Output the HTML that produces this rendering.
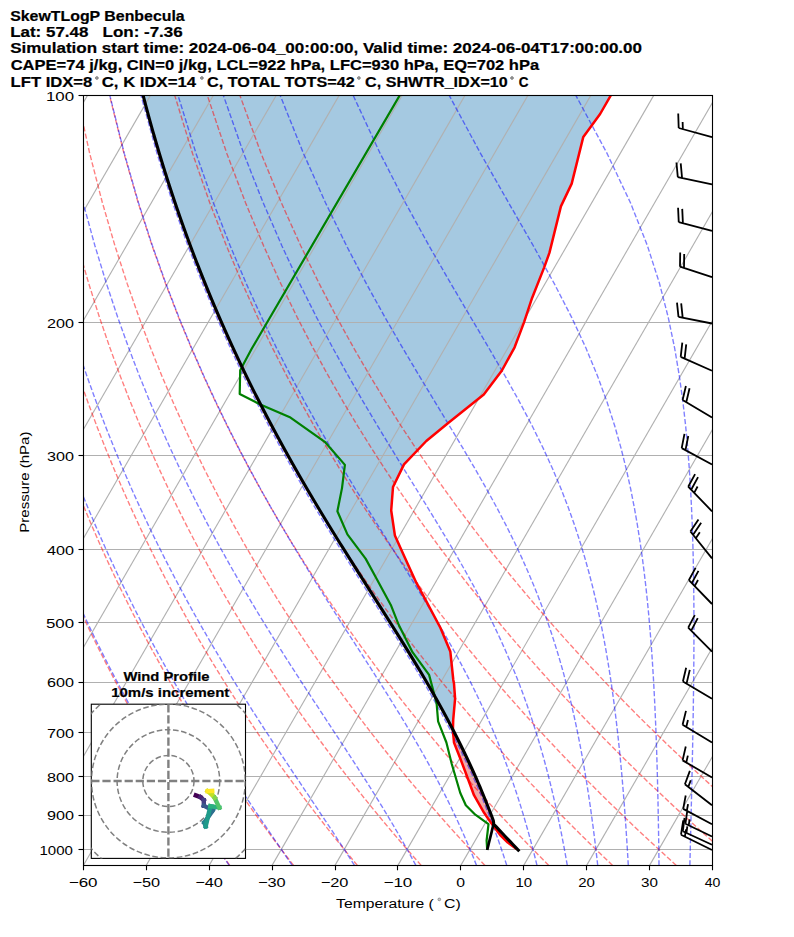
<!DOCTYPE html>
<html><head><meta charset="utf-8"><style>
html,body{margin:0;padding:0;background:#fff;}
svg{display:block;}
.tt{font-family:"Liberation Sans",sans-serif;font-weight:bold;font-size:14.3px;fill:#000;stroke:#000;stroke-width:0.2px;}
.tb{font-family:"Liberation Sans",sans-serif;font-weight:bold;font-size:13px;fill:#000;stroke:#000;stroke-width:0.2px;}
.tl{font-family:"Liberation Sans",sans-serif;font-size:13.7px;fill:#000;}
</style></head><body>
<svg width="794" height="937" viewBox="0 0 794 937">
<rect width="794" height="937" fill="#fff"/>
<defs><clipPath id="ax"><rect x="83.35" y="95.4" width="629.15" height="770.0"/></clipPath></defs>
<g clip-path="url(#ax)">
<polygon points="610.8,95.4 610.51,95.9 610.22,96.41 609.93,96.91 609.64,97.41 609.35,97.92 609.06,98.42 608.77,98.92 608.48,99.42 608.2,99.93 607.91,100.43 607.62,100.93 607.33,101.44 607.04,101.94 606.75,102.44 606.46,102.95 606.17,103.45 605.88,103.95 605.59,104.46 605.3,104.96 605.01,105.46 604.72,105.96 604.43,106.47 604.14,106.97 603.85,107.47 603.57,107.98 603.28,108.48 602.99,108.98 602.7,109.49 602.41,109.99 602.12,110.49 601.83,111 601.54,111.5 601.25,112 600.96,112.5 600.67,113.01 600.38,113.51 600.09,114.01 599.72,114.52 599.35,115.02 598.98,115.52 598.61,116.03 598.24,116.53 597.88,117.03 597.51,117.54 597.14,118.04 596.77,118.54 596.4,119.04 596.03,119.55 595.66,120.05 595.29,120.55 594.92,121.06 594.55,121.56 594.19,122.06 593.82,122.57 593.45,123.07 593.08,123.57 592.71,124.07 592.34,124.58 591.97,125.08 591.6,125.58 591.23,126.09 590.86,126.59 590.49,127.09 590.13,127.6 589.76,128.1 589.39,128.6 589.02,129.11 588.65,129.61 588.28,130.11 587.91,130.61 587.54,131.12 587.17,131.62 586.8,132.12 586.43,132.63 586.07,133.13 585.7,133.63 585.33,134.14 584.96,134.64 584.59,135.14 584.22,135.65 583.85,136.15 583.48,136.65 583.24,137.15 583.11,137.66 582.99,138.16 582.86,138.66 582.74,139.17 582.61,139.67 582.49,140.17 582.36,140.68 582.24,141.18 582.11,141.68 581.99,142.19 581.86,142.69 581.74,143.19 581.61,143.69 581.49,144.2 581.36,144.7 581.24,145.2 581.11,145.71 580.99,146.21 580.86,146.71 580.74,147.22 580.61,147.72 580.49,148.22 580.36,148.73 580.24,149.23 580.11,149.73 579.99,150.23 579.86,150.74 579.74,151.24 579.61,151.74 579.49,152.25 579.36,152.75 579.24,153.25 579.11,153.76 578.99,154.26 578.86,154.76 578.74,155.27 578.61,155.77 578.49,156.27 578.36,156.77 578.24,157.28 578.11,157.78 577.99,158.28 577.86,158.79 577.74,159.29 577.61,159.79 577.49,160.3 577.36,160.8 577.24,161.3 577.11,161.81 576.99,162.31 576.86,162.81 576.74,163.31 576.61,163.82 576.49,164.32 576.36,164.82 576.24,165.33 576.11,165.83 575.99,166.33 575.86,166.84 575.74,167.34 575.61,167.84 575.49,168.34 575.36,168.85 575.24,169.35 575.11,169.85 574.99,170.36 574.86,170.86 574.74,171.36 574.61,171.87 574.49,172.37 574.36,172.87 574.24,173.38 574.11,173.88 573.99,174.38 573.86,174.88 573.74,175.39 573.61,175.89 573.49,176.39 573.36,176.9 573.24,177.4 573.12,177.9 572.99,178.41 572.87,178.91 572.74,179.41 572.62,179.92 572.49,180.42 572.37,180.92 572.24,181.42 572.12,181.93 571.99,182.43 571.87,182.93 571.74,183.44 571.54,183.94 571.3,184.44 571.06,184.95 570.82,185.45 570.59,185.95 570.35,186.46 570.11,186.96 569.87,187.46 569.63,187.96 569.39,188.47 569.16,188.97 568.92,189.47 568.68,189.98 568.44,190.48 568.2,190.98 567.96,191.49 567.73,191.99 567.49,192.49 567.25,193 567.01,193.5 566.77,194 566.53,194.5 566.3,195.01 566.06,195.51 565.82,196.01 565.58,196.52 565.34,197.02 565.1,197.52 564.87,198.03 564.63,198.53 564.39,199.03 564.15,199.54 563.91,200.04 563.68,200.54 563.44,201.04 563.2,201.55 562.96,202.05 562.72,202.55 562.48,203.06 562.25,203.56 562.01,204.06 561.77,204.57 561.53,205.07 561.29,205.57 561.05,206.08 560.86,206.58 560.73,207.08 560.61,207.58 560.48,208.09 560.36,208.59 560.23,209.09 560.11,209.6 559.99,210.1 559.86,210.6 559.74,211.11 559.61,211.61 559.49,212.11 559.36,212.62 559.24,213.12 559.11,213.62 558.99,214.12 558.87,214.63 558.74,215.13 558.62,215.63 558.49,216.14 558.37,216.64 558.24,217.14 558.12,217.65 557.99,218.15 557.87,218.65 557.75,219.15 557.62,219.66 557.5,220.16 557.37,220.66 557.25,221.17 557.12,221.67 557,222.17 556.87,222.68 556.75,223.18 556.63,223.68 556.5,224.19 556.38,224.69 556.25,225.19 556.13,225.69 556,226.2 555.88,226.7 555.75,227.2 555.63,227.71 555.51,228.21 555.38,228.71 555.26,229.22 555.13,229.72 555.01,230.22 554.88,230.73 554.76,231.23 554.64,231.73 554.51,232.23 554.39,232.74 554.26,233.24 554.14,233.74 554.01,234.25 553.89,234.75 553.76,235.25 553.64,235.76 553.52,236.26 553.39,236.76 553.27,237.27 553.14,237.77 553.02,238.27 552.89,238.77 552.77,239.28 552.64,239.78 552.52,240.28 552.4,240.79 552.27,241.29 552.15,241.79 552.02,242.3 551.9,242.8 551.77,243.3 551.65,243.81 551.52,244.31 551.4,244.81 551.28,245.31 551.15,245.82 551.03,246.32 550.9,246.82 550.78,247.33 550.65,247.83 550.53,248.33 550.41,248.84 550.28,249.34 550.16,249.84 550.03,250.35 549.91,250.85 549.78,251.35 549.66,251.85 549.53,252.36 549.41,252.86 549.23,253.36 549.05,253.87 548.87,254.37 548.69,254.87 548.51,255.38 548.33,255.88 548.14,256.38 547.96,256.89 547.78,257.39 547.6,257.89 547.42,258.39 547.24,258.9 547.06,259.4 546.87,259.9 546.69,260.41 546.51,260.91 546.33,261.41 546.15,261.92 545.97,262.42 545.79,262.92 545.61,263.42 545.42,263.93 545.24,264.43 545.06,264.93 544.88,265.44 544.7,265.94 544.52,266.44 544.34,266.95 544.15,267.45 543.96,267.95 543.76,268.46 543.56,268.96 543.36,269.46 543.16,269.96 542.97,270.47 542.77,270.97 542.57,271.47 542.37,271.98 542.17,272.48 541.97,272.98 541.77,273.49 541.57,273.99 541.37,274.49 541.18,275 540.98,275.5 540.78,276 540.58,276.5 540.38,277.01 540.18,277.51 539.98,278.01 539.78,278.52 539.58,279.02 539.39,279.52 539.19,280.03 538.99,280.53 538.79,281.03 538.59,281.54 538.39,282.04 538.19,282.54 537.99,283.04 537.79,283.55 537.59,284.05 537.4,284.55 537.2,285.06 537,285.56 536.8,286.06 536.6,286.57 536.4,287.07 536.2,287.57 536,288.08 535.8,288.58 535.61,289.08 535.41,289.58 535.21,290.09 535.01,290.59 534.81,291.09 534.61,291.6 534.41,292.1 534.21,292.6 534.01,293.11 533.82,293.61 533.62,294.11 533.42,294.62 533.22,295.12 533.02,295.62 532.82,296.12 532.62,296.63 532.42,297.13 532.22,297.63 532.03,298.14 531.85,298.64 531.69,299.14 531.52,299.65 531.36,300.15 531.19,300.65 531.02,301.16 530.86,301.66 530.69,302.16 530.52,302.66 530.36,303.17 530.19,303.67 530.03,304.17 529.86,304.68 529.69,305.18 529.53,305.68 529.36,306.19 529.19,306.69 529.03,307.19 528.86,307.69 528.7,308.2 528.53,308.7 528.36,309.2 528.2,309.71 528.03,310.21 527.86,310.71 527.7,311.22 527.53,311.72 527.36,312.22 527.2,312.73 527.03,313.23 526.87,313.73 526.7,314.23 526.53,314.74 526.37,315.24 526.2,315.74 526.03,316.25 525.87,316.75 525.7,317.25 525.54,317.76 525.37,318.26 525.2,318.76 525.04,319.27 524.87,319.77 524.7,320.27 524.54,320.77 524.37,321.28 524.21,321.78 524.03,322.28 523.84,322.79 523.65,323.29 523.46,323.79 523.27,324.3 523.08,324.8 522.89,325.3 522.7,325.81 522.51,326.31 522.32,326.81 522.13,327.31 521.94,327.82 521.75,328.32 521.57,328.82 521.38,329.33 521.19,329.83 521,330.33 520.81,330.84 520.62,331.34 520.43,331.84 520.24,332.35 520.05,332.85 519.86,333.35 519.67,333.85 519.48,334.36 519.29,334.86 519.1,335.36 518.91,335.87 518.72,336.37 518.53,336.87 518.34,337.38 518.15,337.88 517.96,338.38 517.77,338.89 517.58,339.39 517.39,339.89 517.2,340.39 517.01,340.9 516.82,341.4 516.63,341.9 516.44,342.41 516.26,342.91 516.07,343.41 515.88,343.92 515.69,344.42 515.5,344.92 515.31,345.43 515.12,345.93 514.93,346.43 514.74,346.93 514.52,347.44 514.25,347.94 513.97,348.44 513.7,348.95 513.42,349.45 513.15,349.95 512.87,350.46 512.6,350.96 512.32,351.46 512.05,351.97 511.77,352.47 511.5,352.97 511.22,353.47 510.94,353.98 510.67,354.48 510.39,354.98 510.12,355.49 509.84,355.99 509.57,356.49 509.29,357 509.02,357.5 508.74,358 508.47,358.5 508.19,359.01 507.92,359.51 507.64,360.01 507.36,360.52 507.09,361.02 506.81,361.52 506.54,362.03 506.26,362.53 505.99,363.03 505.71,363.54 505.44,364.04 505.16,364.54 504.89,365.04 504.61,365.55 504.34,366.05 504.06,366.55 503.78,367.06 503.51,367.56 503.23,368.06 502.96,368.57 502.68,369.07 502.41,369.57 502.13,370.08 501.84,370.58 501.46,371.08 501.09,371.58 500.71,372.09 500.33,372.59 499.95,373.09 499.57,373.6 499.2,374.1 498.82,374.6 498.44,375.11 498.06,375.61 497.68,376.11 497.31,376.62 496.93,377.12 496.55,377.62 496.17,378.12 495.8,378.63 495.42,379.13 495.04,379.63 494.66,380.14 494.28,380.64 493.91,381.14 493.53,381.65 493.15,382.15 492.77,382.65 492.4,383.16 492.02,383.66 491.64,384.16 491.26,384.66 490.88,385.17 490.51,385.67 490.13,386.17 489.75,386.68 489.37,387.18 488.99,387.68 488.62,388.19 488.24,388.69 487.86,389.19 487.48,389.7 487.11,390.2 486.73,390.7 486.35,391.2 485.97,391.71 485.59,392.21 485.22,392.71 484.84,393.22 484.46,393.72 484.08,394.22 483.64,394.73 483.01,395.23 482.38,395.73 481.75,396.24 481.12,396.74 480.49,397.24 479.86,397.74 479.23,398.25 478.6,398.75 477.97,399.25 477.35,399.76 476.72,400.26 476.09,400.76 475.46,401.27 474.83,401.77 474.2,402.27 473.57,402.77 472.94,403.28 472.31,403.78 471.68,404.28 471.05,404.79 470.42,405.29 469.79,405.79 469.16,406.3 468.53,406.8 467.9,407.3 467.27,407.81 466.64,408.31 466.01,408.81 465.38,409.31 464.75,409.82 464.12,410.32 463.49,410.82 462.86,411.33 462.23,411.83 461.6,412.33 460.97,412.84 460.34,413.34 459.71,413.84 459.08,414.35 458.45,414.85 457.82,415.35 457.19,415.85 456.56,416.36 455.93,416.86 455.3,417.36 454.67,417.87 454.05,418.37 453.42,418.87 452.79,419.38 452.16,419.88 451.53,420.38 450.9,420.89 450.27,421.39 449.64,421.89 449.01,422.39 448.38,422.9 447.77,423.4 447.15,423.9 446.54,424.41 445.93,424.91 445.31,425.41 444.7,425.92 444.09,426.42 443.47,426.92 442.86,427.43 442.24,427.93 441.63,428.43 441.02,428.93 440.4,429.44 439.79,429.94 439.18,430.44 438.56,430.95 437.95,431.45 437.34,431.95 436.72,432.46 436.11,432.96 435.49,433.46 434.88,433.97 434.27,434.47 433.65,434.97 433.04,435.47 432.43,435.98 431.81,436.48 431.2,436.98 430.59,437.49 429.97,437.99 429.36,438.49 428.74,439 428.13,439.5 427.52,440 426.9,440.51 426.29,441.01 425.81,441.51 425.33,442.01 424.85,442.52 424.37,443.02 423.9,443.52 423.42,444.03 422.94,444.53 422.46,445.03 421.98,445.54 421.5,446.04 421.02,446.54 420.54,447.05 420.06,447.55 419.58,448.05 419.1,448.55 418.62,449.06 418.14,449.56 417.66,450.06 417.18,450.57 416.7,451.07 416.22,451.57 415.74,452.08 415.27,452.58 414.79,453.08 414.31,453.58 413.83,454.09 413.35,454.59 412.87,455.09 412.39,455.6 411.91,456.1 411.43,456.6 410.95,457.11 410.47,457.61 409.99,458.11 409.51,458.62 409.03,459.12 408.55,459.62 408.07,460.12 407.59,460.63 407.12,461.13 406.64,461.63 406.16,462.14 405.68,462.64 405.2,463.14 404.72,463.65 404.24,464.15 403.88,464.65 403.63,465.16 403.39,465.66 403.14,466.16 402.9,466.66 402.65,467.17 402.41,467.67 402.16,468.17 401.92,468.68 401.67,469.18 401.43,469.68 401.18,470.19 400.94,470.69 400.69,471.19 400.45,471.7 400.2,472.2 399.96,472.7 399.71,473.2 399.47,473.71 399.22,474.21 398.98,474.71 398.74,475.22 398.49,475.72 398.25,476.22 398,476.73 397.76,477.23 397.51,477.73 397.27,478.24 397.02,478.74 396.78,479.24 396.53,479.74 396.29,480.25 396.04,480.75 395.8,481.25 395.55,481.76 395.31,482.26 395.06,482.76 394.82,483.27 394.57,483.77 394.33,484.27 394.08,484.78 393.84,485.28 393.59,485.78 393.35,486.28 393.1,486.79 392.98,487.29 392.94,487.79 392.9,488.3 392.86,488.8 392.82,489.3 392.79,489.81 392.75,490.31 392.71,490.81 392.67,491.32 392.63,491.82 392.59,492.32 392.55,492.82 392.52,493.33 392.48,493.83 392.44,494.33 392.4,494.84 392.36,495.34 392.32,495.84 392.28,496.35 392.25,496.85 392.21,497.35 392.17,497.85 392.13,498.36 392.09,498.86 392.05,499.36 392.01,499.87 391.98,500.37 391.94,500.87 391.9,501.38 391.86,501.88 391.82,502.38 391.78,502.89 391.74,503.39 391.71,503.89 391.67,504.39 391.63,504.9 391.59,505.4 391.55,505.9 391.51,506.41 391.47,506.91 391.44,507.41 391.4,507.92 391.36,508.42 391.32,508.92 391.28,509.43 391.24,509.93 391.21,510.43 391.26,510.93 391.34,511.44 391.41,511.94 391.49,512.44 391.56,512.95 391.64,513.45 391.71,513.95 391.79,514.46 391.86,514.96 391.94,515.46 392.01,515.97 392.09,516.47 392.16,516.97 392.24,517.47 392.31,517.98 392.39,518.48 392.46,518.98 392.54,519.49 392.61,519.99 392.68,520.49 392.76,521 392.83,521.5 392.91,522 392.98,522.51 393.06,523.01 393.13,523.51 393.21,524.01 393.28,524.52 393.36,525.02 393.43,525.52 393.51,526.03 393.58,526.53 393.66,527.03 393.73,527.54 393.81,528.04 393.88,528.54 393.96,529.05 394.03,529.55 394.11,530.05 394.18,530.55 394.25,531.06 394.33,531.56 394.4,532.06 394.48,532.57 394.55,533.07 394.63,533.57 394.7,534.08 394.78,534.58 394.85,535.08 394.98,535.59 395.21,536.09 395.43,536.59 395.66,537.09 395.88,537.6 396.1,538.1 396.33,538.6 396.55,539.11 396.78,539.61 397,540.11 397.23,540.62 397.45,541.12 397.68,541.62 397.9,542.13 398.12,542.63 398.35,543.13 398.57,543.63 398.8,544.14 399.02,544.64 399.25,545.14 399.47,545.65 399.7,546.15 399.92,546.65 400.14,547.16 400.37,547.66 400.59,548.16 400.82,548.66 401.04,549.17 401.27,549.67 401.49,550.17 401.71,550.68 401.94,551.18 402.16,551.68 402.39,552.19 402.61,552.69 402.84,553.19 403.06,553.7 403.29,554.2 403.51,554.7 403.73,555.2 403.96,555.71 404.19,556.21 404.42,556.71 404.65,557.22 404.88,557.72 405.11,558.22 405.34,558.73 405.57,559.23 405.8,559.73 406.03,560.24 406.26,560.74 406.49,561.24 406.72,561.74 406.95,562.25 407.18,562.75 407.41,563.25 407.64,563.76 407.87,564.26 408.1,564.76 408.33,565.27 408.56,565.77 408.79,566.27 409.02,566.78 409.25,567.28 409.48,567.78 409.71,568.28 409.94,568.79 410.17,569.29 410.4,569.79 410.63,570.3 410.86,570.8 411.09,571.3 411.32,571.81 411.55,572.31 411.78,572.81 412.01,573.32 412.24,573.82 412.47,574.32 412.7,574.82 412.93,575.33 413.16,575.83 413.39,576.33 413.62,576.84 413.85,577.34 414.08,577.84 414.31,578.35 414.54,578.85 414.77,579.35 415,579.86 415.23,580.36 415.46,580.86 415.69,581.36 415.92,581.87 416.15,582.37 416.39,582.87 416.67,583.38 416.94,583.88 417.21,584.38 417.49,584.89 417.76,585.39 418.03,585.89 418.3,586.4 418.58,586.9 418.85,587.4 419.12,587.9 419.39,588.41 419.67,588.91 419.94,589.41 420.21,589.92 420.49,590.42 420.76,590.92 421.03,591.43 421.3,591.93 421.58,592.43 421.85,592.93 422.12,593.44 422.39,593.94 422.67,594.44 422.94,594.95 423.21,595.45 423.49,595.95 423.76,596.46 424.03,596.96 424.3,597.46 424.58,597.97 424.85,598.47 425.12,598.97 425.39,599.47 425.66,599.98 425.93,600.48 426.19,600.98 426.46,601.49 426.72,601.99 426.99,602.49 427.26,603 427.52,603.5 427.79,604 428.06,604.51 428.32,605.01 428.59,605.51 428.86,606.01 429.12,606.52 429.39,607.02 429.66,607.52 429.92,608.03 430.19,608.53 430.45,609.03 430.72,609.54 430.99,610.04 431.25,610.54 431.52,611.05 431.79,611.55 432.05,612.05 432.32,612.55 432.59,613.06 432.85,613.56 433.12,614.06 433.39,614.57 433.65,615.07 433.92,615.57 434.18,616.08 434.45,616.58 434.72,617.08 434.98,617.59 435.25,618.09 435.52,618.59 435.78,619.09 436.05,619.6 436.32,620.1 436.58,620.6 436.85,621.11 437.12,621.61 437.38,622.11 437.65,622.62 437.91,623.12 438.18,623.62 438.45,624.13 438.71,624.63 438.98,625.13 439.25,625.63 439.51,626.14 439.78,626.64 440.05,627.14 440.31,627.65 440.56,628.15 440.77,628.65 440.98,629.16 441.19,629.66 441.41,630.16 441.62,630.67 441.83,631.17 442.04,631.67 442.25,632.17 442.46,632.68 442.67,633.18 442.88,633.68 443.09,634.19 443.3,634.69 443.51,635.19 443.72,635.7 443.93,636.2 444.14,636.7 444.36,637.21 444.57,637.71 444.78,638.21 444.99,638.71 445.2,639.22 445.41,639.72 445.62,640.22 445.83,640.73 446.04,641.23 446.25,641.73 446.46,642.24 446.67,642.74 446.88,643.24 447.09,643.74 447.3,644.25 447.52,644.75 447.73,645.25 447.94,645.76 448.15,646.26 448.36,646.76 448.57,647.27 448.78,647.77 448.99,648.27 449.2,648.78 449.41,649.28 449.62,649.78 449.83,650.28 450.04,650.79 450.25,651.29 450.34,651.79 450.39,652.3 450.45,652.8 450.5,653.3 450.55,653.81 450.61,654.31 450.66,654.81 450.71,655.32 450.76,655.82 450.82,656.32 450.87,656.82 450.92,657.33 450.97,657.83 451.03,658.33 451.08,658.84 451.13,659.34 451.19,659.84 451.24,660.35 451.29,660.85 451.34,661.35 451.4,661.86 451.45,662.36 451.5,662.86 451.56,663.36 451.61,663.87 451.66,664.37 451.71,664.87 451.77,665.38 451.82,665.88 451.87,666.38 451.92,666.89 451.98,667.39 452.03,667.89 452.08,668.4 452.14,668.9 452.19,669.4 452.24,669.9 452.29,670.41 452.35,670.91 452.4,671.41 452.45,671.92 452.5,672.42 452.56,672.92 452.61,673.43 452.66,673.93 452.72,674.43 452.77,674.94 452.82,675.44 452.87,675.94 452.93,676.44 452.98,676.95 453.03,677.45 453.09,677.95 453.14,678.46 453.19,678.96 453.24,679.46 453.3,679.97 453.39,680.47 453.49,680.97 453.59,681.48 453.68,681.98 453.78,682.48 453.88,682.98 453.98,683.49 454.03,683.99 454.07,684.49 454.1,685 454.14,685.5 454.18,686 454.21,686.51 454.25,687.01 454.28,687.51 454.32,688.01 454.36,688.52 454.39,689.02 454.43,689.52 454.47,690.03 454.5,690.53 454.54,691.03 454.58,691.54 454.61,692.04 454.65,692.54 454.69,693.05 454.72,693.55 454.76,694.05 454.8,694.55 454.83,695.06 454.87,695.56 454.91,696.06 454.94,696.57 454.98,697.07 455.02,697.57 455.05,698.08 455.09,698.58 455.07,699.08 455.02,699.59 454.98,700.09 454.93,700.59 454.89,701.09 454.84,701.6 454.8,702.1 454.75,702.6 454.71,703.11 454.66,703.61 454.61,704.11 454.57,704.62 454.52,705.12 454.48,705.62 454.43,706.13 454.39,706.63 454.34,707.13 454.3,707.63 454.25,708.14 454.21,708.64 454.16,709.14 454.12,709.65 454.07,710.15 454.03,710.65 453.98,711.16 453.94,711.66 453.89,712.16 453.85,712.67 453.8,713.17 453.76,713.67 453.71,714.17 453.67,714.68 453.62,715.18 453.58,715.68 453.53,716.19 453.49,716.69 453.44,717.19 453.4,717.7 453.35,718.2 453.31,718.7 453.26,719.21 453.22,719.71 453.19,720.21 453.18,720.71 453.16,721.22 453.15,721.72 453.13,722.22 453.12,722.73 453.11,723.23 453.09,723.73 453.08,724.24 453.06,724.74 453.05,725.24 453.03,725.75 453.02,726.25 453.01,726.75 452.99,727.25 452.98,727.76 452.96,728.26 452.95,728.76 452.93,729.27 452.68,729.27 452.42,728.76 452.16,728.26 451.9,727.76 451.63,727.25 451.37,726.75 451.11,726.25 450.84,725.75 450.58,725.24 450.32,724.74 450.05,724.24 449.79,723.73 449.52,723.23 449.26,722.73 448.99,722.22 448.72,721.72 448.45,721.22 448.19,720.71 447.92,720.21 447.65,719.71 447.39,719.21 447.12,718.7 446.85,718.2 446.58,717.7 446.31,717.19 446.04,716.69 445.77,716.19 445.5,715.68 445.22,715.18 444.95,714.68 444.68,714.17 444.4,713.67 444.13,713.17 443.86,712.67 443.59,712.16 443.31,711.66 443.04,711.16 442.76,710.65 442.49,710.15 442.21,709.65 441.94,709.14 441.66,708.64 441.38,708.14 441.11,707.63 440.83,707.13 440.55,706.63 440.27,706.13 439.99,705.62 439.72,705.12 439.44,704.62 439.16,704.11 438.88,703.61 438.6,703.11 438.32,702.6 438.03,702.1 437.75,701.6 437.47,701.09 437.19,700.59 436.91,700.09 436.63,699.59 436.34,699.08 436.06,698.58 435.78,698.08 435.49,697.57 435.21,697.07 434.92,696.57 434.64,696.06 434.35,695.56 434.07,695.06 433.78,694.55 433.49,694.05 433.21,693.55 432.92,693.05 432.63,692.54 432.35,692.04 432.06,691.54 431.77,691.03 431.48,690.53 431.19,690.03 430.9,689.52 430.61,689.02 430.32,688.52 430.03,688.01 429.74,687.51 429.45,687.01 429.16,686.51 428.87,686 428.58,685.5 428.29,685 427.99,684.49 427.7,683.99 427.41,683.49 427.12,682.98 426.82,682.48 426.53,681.98 426.23,681.48 425.94,680.97 425.64,680.47 425.35,679.97 425.05,679.46 424.76,678.96 424.46,678.46 424.17,677.95 423.87,677.45 423.57,676.95 423.28,676.44 422.98,675.94 422.68,675.44 422.38,674.94 422.09,674.43 421.79,673.93 421.49,673.43 421.19,672.92 420.89,672.42 420.59,671.92 420.29,671.41 419.99,670.91 419.69,670.41 419.39,669.9 419.09,669.4 418.79,668.9 418.49,668.4 418.19,667.89 417.89,667.39 417.58,666.89 417.28,666.38 416.98,665.88 416.68,665.38 416.37,664.87 416.07,664.37 415.77,663.87 415.46,663.36 415.16,662.86 414.85,662.36 414.55,661.86 414.24,661.35 413.94,660.85 413.63,660.35 413.33,659.84 413.02,659.34 412.72,658.84 412.41,658.33 412.11,657.83 411.8,657.33 411.49,656.82 411.19,656.32 410.88,655.82 410.57,655.32 410.26,654.81 409.96,654.31 409.65,653.81 409.34,653.3 409.03,652.8 408.72,652.3 408.41,651.79 408.1,651.29 407.8,650.79 407.49,650.28 407.18,649.78 406.87,649.28 406.56,648.78 406.25,648.27 405.94,647.77 405.63,647.27 405.31,646.76 405,646.26 404.69,645.76 404.38,645.25 404.07,644.75 403.76,644.25 403.45,643.74 403.13,643.24 402.82,642.74 402.51,642.24 402.2,641.73 401.89,641.23 401.57,640.73 401.26,640.22 400.95,639.72 400.63,639.22 400.32,638.71 400.01,638.21 399.69,637.71 399.38,637.21 399.07,636.7 398.75,636.2 398.44,635.7 398.12,635.19 397.81,634.69 397.49,634.19 397.18,633.68 396.86,633.18 396.55,632.68 396.23,632.17 395.92,631.67 395.6,631.17 395.29,630.67 394.97,630.16 394.65,629.66 394.34,629.16 394.02,628.65 393.71,628.15 393.39,627.65 393.07,627.14 392.76,626.64 392.44,626.14 392.12,625.63 391.81,625.13 391.49,624.63 391.17,624.13 390.85,623.62 390.54,623.12 390.22,622.62 389.9,622.11 389.58,621.61 389.27,621.11 388.95,620.6 388.63,620.1 388.31,619.6 387.99,619.09 387.68,618.59 387.36,618.09 387.04,617.59 386.72,617.08 386.4,616.58 386.08,616.08 385.77,615.57 385.45,615.07 385.13,614.57 384.81,614.06 384.49,613.56 384.17,613.06 383.85,612.55 383.53,612.05 383.22,611.55 382.9,611.05 382.58,610.54 382.26,610.04 381.94,609.54 381.62,609.03 381.3,608.53 380.98,608.03 380.66,607.52 380.34,607.02 380.02,606.52 379.7,606.01 379.38,605.51 379.06,605.01 378.74,604.51 378.42,604 378.1,603.5 377.78,603 377.46,602.49 377.14,601.99 376.82,601.49 376.5,600.98 376.18,600.48 375.86,599.98 375.54,599.47 375.22,598.97 374.9,598.47 374.58,597.97 374.26,597.46 373.94,596.96 373.62,596.46 373.3,595.95 372.98,595.45 372.66,594.95 372.34,594.44 372.02,593.94 371.7,593.44 371.38,592.93 371.06,592.43 370.74,591.93 370.42,591.43 370.1,590.92 369.78,590.42 369.46,589.92 369.14,589.41 368.82,588.91 368.5,588.41 368.18,587.9 367.86,587.4 367.54,586.9 367.22,586.4 366.9,585.89 366.58,585.39 366.26,584.89 365.94,584.38 365.62,583.88 365.3,583.38 364.98,582.87 364.66,582.37 364.34,581.87 364.02,581.36 363.7,580.86 363.38,580.36 363.06,579.86 362.74,579.35 362.42,578.85 362.1,578.35 361.78,577.84 361.46,577.34 361.15,576.84 360.83,576.33 360.51,575.83 360.19,575.33 359.87,574.82 359.55,574.32 359.23,573.82 358.91,573.32 358.59,572.81 358.27,572.31 357.96,571.81 357.64,571.3 357.32,570.8 357,570.3 356.68,569.79 356.36,569.29 356.04,568.79 355.73,568.28 355.41,567.78 355.09,567.28 354.77,566.78 354.45,566.27 354.14,565.77 353.82,565.27 353.5,564.76 353.18,564.26 352.86,563.76 352.55,563.25 352.23,562.75 351.91,562.25 351.59,561.74 351.28,561.24 350.96,560.74 350.64,560.24 350.33,559.73 350.01,559.23 349.69,558.73 349.38,558.22 349.06,557.72 348.74,557.22 348.43,556.71 348.11,556.21 347.8,555.71 347.48,555.2 347.16,554.7 346.85,554.2 346.53,553.7 346.22,553.19 345.9,552.69 345.59,552.19 345.27,551.68 344.95,551.18 344.64,550.68 344.32,550.17 344.01,549.67 343.7,549.17 343.38,548.66 343.07,548.16 342.75,547.66 342.44,547.16 342.12,546.65 341.81,546.15 341.5,545.65 341.18,545.14 340.87,544.64 340.55,544.14 340.24,543.63 339.93,543.13 339.61,542.63 339.3,542.13 338.99,541.62 338.68,541.12 338.36,540.62 338.05,540.11 337.74,539.61 337.43,539.11 337.11,538.6 336.8,538.1 336.49,537.6 336.18,537.09 335.87,536.59 335.56,536.09 335.24,535.59 334.93,535.08 334.62,534.58 334.31,534.08 334,533.57 333.69,533.07 333.38,532.57 333.07,532.06 332.76,531.56 332.45,531.06 332.14,530.55 331.83,530.05 331.52,529.55 331.21,529.05 330.9,528.54 330.59,528.04 330.29,527.54 329.98,527.03 329.67,526.53 329.36,526.03 329.05,525.52 328.74,525.02 328.43,524.52 328.13,524.01 327.82,523.51 327.51,523.01 327.21,522.51 326.9,522 326.59,521.5 326.28,521 325.98,520.49 325.67,519.99 325.37,519.49 325.06,518.98 324.75,518.48 324.45,517.98 324.14,517.47 323.84,516.97 323.53,516.47 323.23,515.97 322.92,515.46 322.62,514.96 322.31,514.46 322.01,513.95 321.7,513.45 321.4,512.95 321.09,512.44 320.79,511.94 320.49,511.44 320.18,510.93 319.88,510.43 319.58,509.93 319.27,509.43 318.97,508.92 318.67,508.42 318.37,507.92 318.07,507.41 317.76,506.91 317.46,506.41 317.16,505.9 316.86,505.4 316.56,504.9 316.26,504.39 315.96,503.89 315.66,503.39 315.35,502.89 315.05,502.38 314.75,501.88 314.45,501.38 314.15,500.87 313.86,500.37 313.56,499.87 313.26,499.36 312.96,498.86 312.66,498.36 312.36,497.85 312.06,497.35 311.76,496.85 311.47,496.35 311.17,495.84 310.87,495.34 310.57,494.84 310.28,494.33 309.98,493.83 309.68,493.33 309.39,492.82 309.09,492.32 308.79,491.82 308.5,491.32 308.2,490.81 307.9,490.31 307.61,489.81 307.31,489.3 307.02,488.8 306.72,488.3 306.43,487.79 306.13,487.29 305.84,486.79 305.55,486.28 305.25,485.78 304.96,485.28 304.67,484.78 304.37,484.27 304.08,483.77 303.79,483.27 303.49,482.76 303.2,482.26 302.91,481.76 302.62,481.25 302.33,480.75 302.03,480.25 301.74,479.74 301.45,479.24 301.16,478.74 300.87,478.24 300.58,477.73 300.29,477.23 300,476.73 299.71,476.22 299.42,475.72 299.13,475.22 298.84,474.71 298.55,474.21 298.26,473.71 297.97,473.2 297.68,472.7 297.4,472.2 297.11,471.7 296.82,471.19 296.53,470.69 296.25,470.19 295.96,469.68 295.67,469.18 295.38,468.68 295.1,468.17 294.81,467.67 294.53,467.17 294.24,466.66 293.95,466.16 293.67,465.66 293.38,465.16 293.1,464.65 292.81,464.15 292.53,463.65 292.24,463.14 291.96,462.64 291.68,462.14 291.39,461.63 291.11,461.13 290.82,460.63 290.54,460.12 290.26,459.62 289.98,459.12 289.69,458.62 289.41,458.11 289.13,457.61 288.85,457.11 288.57,456.6 288.29,456.1 288,455.6 287.72,455.09 287.44,454.59 287.16,454.09 286.88,453.58 286.6,453.08 286.32,452.58 286.04,452.08 285.76,451.57 285.48,451.07 285.2,450.57 284.93,450.06 284.65,449.56 284.37,449.06 284.09,448.55 283.81,448.05 283.54,447.55 283.26,447.05 282.98,446.54 282.7,446.04 282.43,445.54 282.15,445.03 281.87,444.53 281.6,444.03 281.32,443.52 281.05,443.02 280.77,442.52 280.5,442.01 280.22,441.51 279.95,441.01 279.67,440.51 279.4,440 279.12,439.5 278.85,439 278.58,438.49 278.3,437.99 278.03,437.49 277.76,436.98 277.48,436.48 277.21,435.98 276.94,435.47 276.67,434.97 276.39,434.47 276.12,433.97 275.85,433.46 275.58,432.96 275.31,432.46 275.04,431.95 274.77,431.45 274.5,430.95 274.23,430.44 273.96,429.94 273.69,429.44 273.42,428.93 273.15,428.43 272.88,427.93 272.61,427.43 272.34,426.92 272.08,426.42 271.81,425.92 271.54,425.41 271.27,424.91 271.01,424.41 270.74,423.9 270.47,423.4 270.21,422.9 269.94,422.39 269.67,421.89 269.41,421.39 269.14,420.89 268.88,420.38 268.61,419.88 268.35,419.38 268.08,418.87 267.82,418.37 267.55,417.87 267.29,417.36 267.03,416.86 266.76,416.36 266.5,415.85 266.23,415.35 265.97,414.85 265.71,414.35 265.45,413.84 265.19,413.34 264.92,412.84 264.66,412.33 264.4,411.83 264.14,411.33 263.88,410.82 263.62,410.32 263.36,409.82 263.1,409.31 262.83,408.81 262.57,408.31 262.31,407.81 262.06,407.3 261.8,406.8 261.54,406.3 261.28,405.79 261.02,405.29 260.76,404.79 260.5,404.28 260.25,403.78 259.99,403.28 259.73,402.77 259.47,402.27 259.22,401.77 258.96,401.27 258.7,400.76 258.45,400.26 258.19,399.76 257.94,399.25 257.68,398.75 257.42,398.25 257.17,397.74 256.91,397.24 256.66,396.74 256.4,396.24 256.15,395.73 255.9,395.23 255.64,394.73 255.39,394.22 255.14,393.72 254.88,393.22 254.63,392.71 254.38,392.21 254.12,391.71 253.87,391.2 253.62,390.7 253.37,390.2 253.12,389.7 252.87,389.19 252.61,388.69 252.36,388.19 252.11,387.68 251.86,387.18 251.61,386.68 251.36,386.17 251.11,385.67 250.86,385.17 250.62,384.66 250.37,384.16 250.12,383.66 249.87,383.16 249.62,382.65 249.37,382.15 249.12,381.65 248.88,381.14 248.63,380.64 248.38,380.14 248.14,379.63 247.89,379.13 247.64,378.63 247.4,378.12 247.15,377.62 246.9,377.12 246.66,376.62 246.41,376.11 246.17,375.61 245.92,375.11 245.68,374.6 245.43,374.1 245.19,373.6 244.95,373.09 244.7,372.59 244.46,372.09 244.22,371.58 243.97,371.08 243.73,370.58 243.49,370.08 243.25,369.57 243,369.07 242.76,368.57 242.52,368.06 242.28,367.56 242.04,367.06 241.8,366.55 241.56,366.05 241.32,365.55 241.08,365.04 240.84,364.54 240.59,364.04 240.35,363.54 240.12,363.03 239.88,362.53 239.64,362.03 239.4,361.52 239.16,361.02 238.92,360.52 238.68,360.01 238.45,359.51 238.21,359.01 237.97,358.5 237.74,358 237.5,357.5 237.26,357 237.02,356.49 236.79,355.99 236.55,355.49 236.32,354.98 236.08,354.48 235.85,353.98 235.61,353.47 235.38,352.97 235.14,352.47 234.91,351.97 234.67,351.46 234.44,350.96 234.21,350.46 233.97,349.95 233.74,349.45 233.51,348.95 233.27,348.44 233.04,347.94 232.81,347.44 232.58,346.93 232.34,346.43 232.11,345.93 231.88,345.43 231.65,344.92 231.42,344.42 231.19,343.92 230.96,343.41 230.73,342.91 230.5,342.41 230.27,341.9 230.04,341.4 229.81,340.9 229.58,340.39 229.35,339.89 229.12,339.39 228.89,338.89 228.67,338.38 228.44,337.88 228.21,337.38 227.98,336.87 227.75,336.37 227.53,335.87 227.3,335.36 227.07,334.86 226.85,334.36 226.62,333.85 226.39,333.35 226.17,332.85 225.94,332.35 225.72,331.84 225.49,331.34 225.27,330.84 225.04,330.33 224.82,329.83 224.59,329.33 224.37,328.82 224.15,328.32 223.92,327.82 223.7,327.31 223.48,326.81 223.25,326.31 223.03,325.81 222.81,325.3 222.59,324.8 222.36,324.3 222.14,323.79 221.92,323.29 221.7,322.79 221.48,322.28 221.26,321.78 221.04,321.28 220.82,320.77 220.6,320.27 220.38,319.77 220.16,319.27 219.94,318.76 219.72,318.26 219.5,317.76 219.28,317.25 219.06,316.75 218.84,316.25 218.62,315.74 218.41,315.24 218.19,314.74 217.97,314.23 217.75,313.73 217.54,313.23 217.32,312.73 217.1,312.22 216.89,311.72 216.67,311.22 216.45,310.71 216.24,310.21 216.02,309.71 215.81,309.2 215.59,308.7 215.38,308.2 215.16,307.69 214.95,307.19 214.73,306.69 214.52,306.19 214.31,305.68 214.09,305.18 213.88,304.68 213.67,304.17 213.45,303.67 213.24,303.17 213.03,302.66 212.82,302.16 212.6,301.66 212.39,301.16 212.18,300.65 211.97,300.15 211.76,299.65 211.55,299.14 211.34,298.64 211.13,298.14 210.92,297.63 210.7,297.13 210.49,296.63 210.28,296.12 210.08,295.62 209.87,295.12 209.66,294.62 209.45,294.11 209.24,293.61 209.03,293.11 208.82,292.6 208.61,292.1 208.41,291.6 208.2,291.09 207.99,290.59 207.79,290.09 207.58,289.58 207.37,289.08 207.17,288.58 206.96,288.08 206.75,287.57 206.55,287.07 206.34,286.57 206.14,286.06 205.93,285.56 205.73,285.06 205.52,284.55 205.32,284.05 205.11,283.55 204.91,283.04 204.71,282.54 204.5,282.04 204.3,281.54 204.1,281.03 203.89,280.53 203.69,280.03 203.49,279.52 203.29,279.02 203.08,278.52 202.88,278.01 202.68,277.51 202.48,277.01 202.28,276.5 202.08,276 201.88,275.5 201.68,275 201.48,274.49 201.28,273.99 201.07,273.49 200.88,272.98 200.68,272.48 200.48,271.98 200.28,271.47 200.08,270.97 199.88,270.47 199.68,269.96 199.48,269.46 199.29,268.96 199.09,268.46 198.89,267.95 198.69,267.45 198.5,266.95 198.3,266.44 198.1,265.94 197.91,265.44 197.71,264.93 197.51,264.43 197.32,263.93 197.12,263.42 196.93,262.92 196.73,262.42 196.54,261.92 196.34,261.41 196.15,260.91 195.95,260.41 195.76,259.9 195.57,259.4 195.37,258.9 195.18,258.39 194.98,257.89 194.79,257.39 194.6,256.89 194.41,256.38 194.21,255.88 194.02,255.38 193.83,254.87 193.64,254.37 193.45,253.87 193.26,253.36 193.06,252.86 192.87,252.36 192.68,251.85 192.49,251.35 192.3,250.85 192.11,250.35 191.92,249.84 191.73,249.34 191.54,248.84 191.35,248.33 191.16,247.83 190.97,247.33 190.79,246.82 190.6,246.32 190.41,245.82 190.22,245.31 190.03,244.81 189.85,244.31 189.66,243.81 189.47,243.3 189.28,242.8 189.1,242.3 188.91,241.79 188.72,241.29 188.54,240.79 188.35,240.28 188.17,239.78 187.98,239.28 187.8,238.77 187.61,238.27 187.43,237.77 187.24,237.27 187.06,236.76 186.87,236.26 186.69,235.76 186.5,235.25 186.32,234.75 186.14,234.25 185.95,233.74 185.77,233.24 185.59,232.74 185.4,232.23 185.22,231.73 185.04,231.23 184.86,230.73 184.68,230.22 184.5,229.72 184.31,229.22 184.13,228.71 183.95,228.21 183.77,227.71 183.59,227.2 183.41,226.7 183.23,226.2 183.05,225.69 182.87,225.19 182.69,224.69 182.51,224.19 182.33,223.68 182.15,223.18 181.98,222.68 181.8,222.17 181.62,221.67 181.44,221.17 181.26,220.66 181.09,220.16 180.91,219.66 180.73,219.15 180.55,218.65 180.38,218.15 180.2,217.65 180.02,217.14 179.85,216.64 179.67,216.14 179.5,215.63 179.32,215.13 179.15,214.63 178.97,214.12 178.79,213.62 178.62,213.12 178.45,212.62 178.27,212.11 178.1,211.61 177.92,211.11 177.75,210.6 177.58,210.1 177.4,209.6 177.23,209.09 177.06,208.59 176.88,208.09 176.71,207.58 176.54,207.08 176.37,206.58 176.19,206.08 176.02,205.57 175.85,205.07 175.68,204.57 175.51,204.06 175.34,203.56 175.17,203.06 175,202.55 174.83,202.05 174.66,201.55 174.49,201.04 174.32,200.54 174.15,200.04 173.98,199.54 173.81,199.03 173.64,198.53 173.47,198.03 173.3,197.52 173.13,197.02 172.97,196.52 172.8,196.01 172.63,195.51 172.46,195.01 172.3,194.5 172.13,194 171.96,193.5 171.8,193 171.63,192.49 171.46,191.99 171.3,191.49 171.13,190.98 170.96,190.48 170.8,189.98 170.63,189.47 170.47,188.97 170.3,188.47 170.14,187.96 169.97,187.46 169.81,186.96 169.65,186.46 169.48,185.95 169.32,185.45 169.16,184.95 168.99,184.44 168.83,183.94 168.67,183.44 168.5,182.93 168.34,182.43 168.18,181.93 168.02,181.42 167.86,180.92 167.69,180.42 167.53,179.92 167.37,179.41 167.21,178.91 167.05,178.41 166.89,177.9 166.73,177.4 166.57,176.9 166.41,176.39 166.25,175.89 166.09,175.39 165.93,174.88 165.77,174.38 165.61,173.88 165.45,173.38 165.29,172.87 165.13,172.37 164.97,171.87 164.82,171.36 164.66,170.86 164.5,170.36 164.34,169.85 164.19,169.35 164.03,168.85 163.87,168.34 163.71,167.84 163.56,167.34 163.4,166.84 163.25,166.33 163.09,165.83 162.93,165.33 162.78,164.82 162.62,164.32 162.47,163.82 162.31,163.31 162.16,162.81 162,162.31 161.85,161.81 161.69,161.3 161.54,160.8 161.39,160.3 161.23,159.79 161.08,159.29 160.93,158.79 160.77,158.28 160.62,157.78 160.47,157.28 160.32,156.77 160.16,156.27 160.01,155.77 159.86,155.27 159.71,154.76 159.56,154.26 159.4,153.76 159.25,153.25 159.1,152.75 158.95,152.25 158.8,151.74 158.65,151.24 158.5,150.74 158.35,150.23 158.2,149.73 158.05,149.23 157.9,148.73 157.75,148.22 157.6,147.72 157.46,147.22 157.31,146.71 157.16,146.21 157.01,145.71 156.86,145.2 156.71,144.7 156.57,144.2 156.42,143.69 156.27,143.19 156.12,142.69 155.98,142.19 155.83,141.68 155.69,141.18 155.54,140.68 155.39,140.17 155.25,139.67 155.1,139.17 154.95,138.66 154.81,138.16 154.66,137.66 154.52,137.15 154.38,136.65 154.23,136.15 154.09,135.65 153.94,135.14 153.8,134.64 153.65,134.14 153.51,133.63 153.37,133.13 153.22,132.63 153.08,132.12 152.94,131.62 152.79,131.12 152.65,130.61 152.51,130.11 152.37,129.61 152.23,129.11 152.09,128.6 151.94,128.1 151.8,127.6 151.66,127.09 151.52,126.59 151.38,126.09 151.24,125.58 151.1,125.08 150.96,124.58 150.82,124.07 150.68,123.57 150.54,123.07 150.4,122.57 150.26,122.06 150.12,121.56 149.98,121.06 149.84,120.55 149.7,120.05 149.57,119.55 149.43,119.04 149.29,118.54 149.15,118.04 149.02,117.54 148.88,117.03 148.74,116.53 148.6,116.03 148.47,115.52 148.33,115.02 148.19,114.52 148.06,114.01 147.92,113.51 147.79,113.01 147.65,112.5 147.51,112 147.38,111.5 147.24,111 147.11,110.49 146.97,109.99 146.84,109.49 146.7,108.98 146.57,108.48 146.44,107.98 146.3,107.47 146.17,106.97 146.04,106.47 145.9,105.96 145.77,105.46 145.64,104.96 145.5,104.46 145.37,103.95 145.24,103.45 145.11,102.95 144.98,102.44 144.84,101.94 144.71,101.44 144.58,100.93 144.45,100.43 144.32,99.93 144.19,99.42 144.06,98.92 143.93,98.42 143.8,97.92 143.66,97.41 143.54,96.91 143.41,96.41 143.28,95.9 143.15,95.4" fill="#1f77b4" fill-opacity="0.4" stroke="none"/>
<polygon points="452.92,729.77 452.91,730.27 452.93,730.78 452.97,731.28 453.02,731.78 453.06,732.28 453.11,732.79 453.16,733.29 453.2,733.79 453.25,734.3 453.29,734.8 453.34,735.3 453.39,735.81 453.43,736.31 453.48,736.81 453.52,737.32 453.57,737.82 453.62,738.32 453.66,738.82 453.71,739.33 453.76,739.83 453.8,740.33 453.85,740.84 453.89,741.34 453.94,741.84 453.99,742.35 454.14,742.85 454.34,743.35 454.54,743.86 454.73,744.36 454.93,744.86 455.13,745.36 455.33,745.87 455.53,746.37 455.73,746.87 455.93,747.38 456.12,747.88 456.32,748.38 456.52,748.89 456.72,749.39 456.92,749.89 457.12,750.4 457.32,750.9 457.51,751.4 457.71,751.9 457.91,752.41 458.11,752.91 458.31,753.41 458.51,753.92 458.71,754.42 458.9,754.92 459.1,755.43 459.3,755.93 459.5,756.43 459.7,756.94 459.9,757.44 460.09,757.94 460.28,758.44 460.47,758.95 460.66,759.45 460.85,759.95 461.04,760.46 461.22,760.96 461.41,761.46 461.6,761.97 461.79,762.47 461.98,762.97 462.17,763.48 462.36,763.98 462.55,764.48 462.74,764.98 462.93,765.49 463.11,765.99 463.3,766.49 463.49,767 463.68,767.5 463.87,768 464.06,768.51 464.25,769.01 464.44,769.51 464.63,770.02 464.82,770.52 465,771.02 465.19,771.52 465.38,772.03 465.57,772.53 465.76,773.03 465.95,773.54 466.14,774.04 466.33,774.54 466.52,775.05 466.71,775.55 466.89,776.05 467.08,776.56 467.27,777.06 467.45,777.56 467.64,778.06 467.83,778.57 468.01,779.07 468.2,779.57 468.39,780.08 468.57,780.58 468.76,781.08 468.95,781.59 469.13,782.09 469.32,782.59 469.51,783.09 469.69,783.6 469.88,784.1 470.07,784.6 470.25,785.11 470.44,785.61 470.63,786.11 470.81,786.62 471,787.12 471.19,787.62 471.37,788.13 471.56,788.63 471.75,789.13 471.93,789.63 472.12,790.14 472.31,790.64 472.49,791.14 472.68,791.65 472.87,792.15 473.05,792.65 473.24,793.16 473.43,793.66 473.61,794.16 473.8,794.67 473.99,795.17 474.27,795.67 474.56,796.17 474.85,796.68 475.14,797.18 475.43,797.68 475.71,798.19 476,798.69 476.29,799.19 476.58,799.7 476.87,800.2 477.16,800.7 477.45,801.21 477.73,801.71 478.02,802.21 478.31,802.71 478.6,803.22 478.89,803.72 479.18,804.22 479.47,804.73 479.76,805.23 480.04,805.73 480.33,806.24 480.62,806.74 480.91,807.24 481.2,807.75 481.49,808.25 481.78,808.75 482.07,809.25 482.35,809.76 482.64,810.26 482.93,810.76 483.22,811.27 483.51,811.77 483.8,812.27 484.09,812.78 484.43,813.28 484.78,813.78 485.12,814.29 485.47,814.79 485.81,815.29 486.16,815.79 486.5,816.3 486.85,816.8 487.2,817.3 487.55,817.81 487.9,818.31 488.26,818.81 488.61,819.32 488.97,819.82 489.32,820.32 489.68,820.83 490.03,821.33 490.39,821.83 490.75,822.33 491.1,822.84 491.46,823.34 491.81,823.84 492.17,824.35 492.52,824.85 492.89,825.35 493.27,825.86 493.65,826.36 494.03,826.86 494.42,827.36 494.8,827.87 495.18,828.37 495.56,828.87 495.94,829.38 496.32,829.88 496.7,830.38 497.08,830.89 497.46,831.39 497.85,831.89 498.23,832.4 498.61,832.9 498.99,833.4 499.37,833.9 499.75,834.41 500.13,834.91 500.62,835.41 501.13,835.92 501.64,836.42 502.15,836.92 502.66,837.43 503.17,837.93 503.68,838.43 504.19,838.94 504.7,839.44 505.21,839.94 505.72,840.44 506.23,840.95 506.74,841.45 507.25,841.95 507.76,842.46 508.42,842.96 509.09,843.46 509.76,843.97 510.44,844.47 511.11,844.97 511.78,845.48 512.46,845.98 513.13,846.48 513.8,846.98 514.47,847.49 515.15,847.99 515.82,848.49 516.49,849 516.9,849.5 517.72,849.5 517.24,849 516.75,848.49 516.27,847.99 515.79,847.49 515.3,846.98 514.82,846.48 514.34,845.98 513.86,845.48 513.37,844.97 512.89,844.47 512.41,843.97 511.93,843.46 511.45,842.96 510.97,842.46 510.49,841.95 510.01,841.45 509.53,840.95 509.05,840.44 508.57,839.94 508.09,839.44 507.62,838.94 507.14,838.43 506.66,837.93 506.19,837.43 505.71,836.92 505.23,836.42 504.76,835.92 504.28,835.41 503.81,834.91 503.33,834.41 502.86,833.9 502.38,833.4 501.91,832.9 501.44,832.4 500.96,831.89 500.49,831.39 500.02,830.89 499.54,830.38 499.07,829.88 498.6,829.38 498.13,828.87 497.66,828.37 497.19,827.87 496.72,827.36 496.25,826.86 495.78,826.36 495.31,825.86 494.84,825.35 494.37,824.85 493.9,824.35 493.73,823.84 493.67,823.34 493.61,822.84 493.55,822.33 493.49,821.83 493.43,821.33 493.37,820.83 493.27,820.32 493.08,819.82 492.89,819.32 492.7,818.81 492.51,818.31 492.32,817.81 492.13,817.3 491.95,816.8 491.75,816.3 491.56,815.79 491.37,815.29 491.18,814.79 490.98,814.29 490.79,813.78 490.6,813.28 490.41,812.78 490.21,812.27 490.02,811.77 489.82,811.27 489.63,810.76 489.43,810.26 489.24,809.76 489.04,809.25 488.84,808.75 488.64,808.25 488.45,807.75 488.25,807.24 488.05,806.74 487.85,806.24 487.65,805.73 487.45,805.23 487.25,804.73 487.05,804.22 486.85,803.72 486.65,803.22 486.45,802.71 486.25,802.21 486.05,801.71 485.84,801.21 485.64,800.7 485.44,800.2 485.23,799.7 485.03,799.19 484.82,798.69 484.62,798.19 484.41,797.68 484.21,797.18 484,796.68 483.79,796.17 483.59,795.67 483.38,795.17 483.17,794.67 482.97,794.16 482.76,793.66 482.55,793.16 482.34,792.65 482.13,792.15 481.92,791.65 481.71,791.14 481.5,790.64 481.28,790.14 481.07,789.63 480.86,789.13 480.65,788.63 480.43,788.13 480.22,787.62 480.01,787.12 479.79,786.62 479.58,786.11 479.36,785.61 479.15,785.11 478.93,784.6 478.71,784.1 478.5,783.6 478.28,783.09 478.06,782.59 477.85,782.09 477.63,781.59 477.41,781.08 477.19,780.58 476.97,780.08 476.75,779.57 476.53,779.07 476.31,778.57 476.09,778.06 475.87,777.56 475.64,777.06 475.42,776.56 475.2,776.05 474.98,775.55 474.75,775.05 474.53,774.54 474.3,774.04 474.08,773.54 473.85,773.03 473.63,772.53 473.4,772.03 473.18,771.52 472.95,771.02 472.72,770.52 472.49,770.02 472.26,769.51 472.04,769.01 471.81,768.51 471.58,768 471.35,767.5 471.12,767 470.89,766.49 470.65,765.99 470.42,765.49 470.19,764.98 469.96,764.48 469.73,763.98 469.49,763.48 469.26,762.97 469.03,762.47 468.79,761.97 468.56,761.46 468.32,760.96 468.09,760.46 467.85,759.95 467.61,759.45 467.38,758.95 467.14,758.44 466.9,757.94 466.66,757.44 466.43,756.94 466.19,756.43 465.95,755.93 465.71,755.43 465.47,754.92 465.23,754.42 464.99,753.92 464.75,753.41 464.5,752.91 464.26,752.41 464.02,751.9 463.77,751.4 463.53,750.9 463.29,750.4 463.04,749.89 462.8,749.39 462.56,748.89 462.31,748.38 462.06,747.88 461.82,747.38 461.57,746.87 461.32,746.37 461.08,745.87 460.83,745.36 460.58,744.86 460.33,744.36 460.08,743.86 459.83,743.35 459.58,742.85 459.33,742.35 459.08,741.84 458.83,741.34 458.58,740.84 458.32,740.33 458.07,739.83 457.82,739.33 457.57,738.82 457.31,738.32 457.06,737.82 456.81,737.32 456.55,736.81 456.29,736.31 456.04,735.81 455.78,735.3 455.53,734.8 455.27,734.3 455.01,733.79 454.76,733.29 454.5,732.79 454.24,732.28 453.98,731.78 453.72,731.28 453.46,730.78 453.2,730.27 452.94,729.77" fill="#d62728" fill-opacity="0.4" stroke="none"/>
<line x1="-419.97" y1="865.4" x2="24.59" y2="95.4" stroke="#b0b0b0" stroke-width="1.11"/>
<line x1="-357.05" y1="865.4" x2="87.5" y2="95.4" stroke="#b0b0b0" stroke-width="1.11"/>
<line x1="-294.14" y1="865.4" x2="150.42" y2="95.4" stroke="#b0b0b0" stroke-width="1.11"/>
<line x1="-231.22" y1="865.4" x2="213.33" y2="95.4" stroke="#b0b0b0" stroke-width="1.11"/>
<line x1="-168.31" y1="865.4" x2="276.25" y2="95.4" stroke="#b0b0b0" stroke-width="1.11"/>
<line x1="-105.39" y1="865.4" x2="339.16" y2="95.4" stroke="#b0b0b0" stroke-width="1.11"/>
<line x1="-42.48" y1="865.4" x2="402.08" y2="95.4" stroke="#b0b0b0" stroke-width="1.11"/>
<line x1="20.43" y1="865.4" x2="464.99" y2="95.4" stroke="#b0b0b0" stroke-width="1.11"/>
<line x1="83.35" y1="865.4" x2="527.91" y2="95.4" stroke="#b0b0b0" stroke-width="1.11"/>
<line x1="146.26" y1="865.4" x2="590.82" y2="95.4" stroke="#b0b0b0" stroke-width="1.11"/>
<line x1="209.18" y1="865.4" x2="653.74" y2="95.4" stroke="#b0b0b0" stroke-width="1.11"/>
<line x1="272.09" y1="865.4" x2="716.65" y2="95.4" stroke="#b0b0b0" stroke-width="1.11"/>
<line x1="335.01" y1="865.4" x2="779.57" y2="95.4" stroke="#b0b0b0" stroke-width="1.11"/>
<line x1="397.92" y1="865.4" x2="842.48" y2="95.4" stroke="#b0b0b0" stroke-width="1.11"/>
<line x1="460.84" y1="865.4" x2="905.4" y2="95.4" stroke="#b0b0b0" stroke-width="1.11"/>
<line x1="523.75" y1="865.4" x2="968.31" y2="95.4" stroke="#b0b0b0" stroke-width="1.11"/>
<line x1="586.67" y1="865.4" x2="1031.23" y2="95.4" stroke="#b0b0b0" stroke-width="1.11"/>
<line x1="649.59" y1="865.4" x2="1094.14" y2="95.4" stroke="#b0b0b0" stroke-width="1.11"/>
<line x1="712.5" y1="865.4" x2="1157.06" y2="95.4" stroke="#b0b0b0" stroke-width="1.11"/>
<line x1="83.35" y1="95.5" x2="712.5" y2="95.5" stroke="#b0b0b0" stroke-width="1.11"/>
<line x1="83.35" y1="322.5" x2="712.5" y2="322.5" stroke="#b0b0b0" stroke-width="1.11"/>
<line x1="83.35" y1="455.5" x2="712.5" y2="455.5" stroke="#b0b0b0" stroke-width="1.11"/>
<line x1="83.35" y1="549.5" x2="712.5" y2="549.5" stroke="#b0b0b0" stroke-width="1.11"/>
<line x1="83.35" y1="622.5" x2="712.5" y2="622.5" stroke="#b0b0b0" stroke-width="1.11"/>
<line x1="83.35" y1="682.5" x2="712.5" y2="682.5" stroke="#b0b0b0" stroke-width="1.11"/>
<line x1="83.35" y1="732.5" x2="712.5" y2="732.5" stroke="#b0b0b0" stroke-width="1.11"/>
<line x1="83.35" y1="776.5" x2="712.5" y2="776.5" stroke="#b0b0b0" stroke-width="1.11"/>
<line x1="83.35" y1="815.5" x2="712.5" y2="815.5" stroke="#b0b0b0" stroke-width="1.11"/>
<line x1="83.35" y1="849.5" x2="712.5" y2="849.5" stroke="#b0b0b0" stroke-width="1.11"/>
<polyline points="229.77,865.4 225.4,859.3 220.98,853.08 216.52,846.74 212.02,840.27 207.48,833.68 202.9,826.95 198.27,820.08 193.59,813.06 188.87,805.89 184.09,798.55 179.27,791.05 174.4,783.38 169.47,775.51 164.49,767.46 159.45,759.2 154.36,750.73 149.21,742.03 144,733.1 138.72,723.92 133.38,714.47 127.98,704.74 122.5,694.71 116.96,684.36 111.34,673.68 105.65,662.64 99.89,651.21 94.04,639.37 88.11,627.08 82.1,614.32 76.01,601.04 69.82,587.19 63.54,572.74 57.17,557.62 50.7,541.76 44.13,525.1 37.47,507.54 30.7,488.99 23.83,469.33 16.87,448.41 9.81,426.06 2.66,402.07 -4.57,376.19 -11.85,348.08 -19.17,317.33 -26.48,283.4 -33.71,245.53 -40.75,202.71 -47.41,153.43 -53.37,95.4" fill="none" stroke="#ff0000" stroke-opacity="0.5" stroke-width="1.39" stroke-dasharray="5.14 2.22"/>
<polyline points="293.57,865.4 288.85,859.3 284.1,853.08 279.29,846.74 274.44,840.27 269.54,833.68 264.59,826.95 259.59,820.08 254.54,813.06 249.44,805.89 244.28,798.55 239.06,791.05 233.79,783.38 228.46,775.51 223.06,767.46 217.61,759.2 212.08,750.73 206.5,742.03 200.84,733.1 195.11,723.92 189.31,714.47 183.43,704.74 177.47,694.71 171.44,684.36 165.32,673.68 159.11,662.64 152.81,651.21 146.42,639.37 139.94,627.08 133.35,614.32 126.66,601.04 119.87,587.19 112.96,572.74 105.94,557.62 98.8,541.76 91.54,525.1 84.15,507.54 76.64,488.99 68.99,469.33 61.21,448.41 53.29,426.06 45.24,402.07 37.07,376.19 28.77,348.08 20.38,317.33 11.91,283.4 3.44,245.53 -4.97,202.71 -13.13,153.43 -20.78,95.4" fill="none" stroke="#ff0000" stroke-opacity="0.5" stroke-width="1.39" stroke-dasharray="5.14 2.22"/>
<polyline points="357.37,865.4 352.31,859.3 347.21,853.08 342.06,846.74 336.85,840.27 331.6,833.68 326.28,826.95 320.92,820.08 315.49,813.06 310.01,805.89 304.46,798.55 298.85,791.05 293.18,783.38 287.44,775.51 281.64,767.46 275.76,759.2 269.81,750.73 263.78,742.03 257.68,733.1 251.5,723.92 245.23,714.47 238.88,704.74 232.44,694.71 225.91,684.36 219.29,673.68 212.56,662.64 205.73,651.21 198.8,639.37 191.76,627.08 184.6,614.32 177.32,601.04 169.92,587.19 162.38,572.74 154.71,557.62 146.91,541.76 138.95,525.1 130.84,507.54 122.58,488.99 114.15,469.33 105.55,448.41 96.78,426.06 87.83,402.07 78.7,376.19 69.39,348.08 59.92,317.33 50.31,283.4 40.58,245.53 30.82,202.71 21.15,153.43 11.81,95.4" fill="none" stroke="#ff0000" stroke-opacity="0.5" stroke-width="1.39" stroke-dasharray="5.14 2.22"/>
<polyline points="421.17,865.4 415.77,859.3 410.33,853.08 404.83,846.74 399.27,840.27 393.65,833.68 387.98,826.95 382.24,820.08 376.44,813.06 370.58,805.89 364.64,798.55 358.64,791.05 352.57,783.38 346.43,775.51 340.21,767.46 333.91,759.2 327.53,750.73 321.07,742.03 314.52,733.1 307.89,723.92 301.16,714.47 294.34,704.74 287.42,694.71 280.39,684.36 273.26,673.68 266.02,662.64 258.66,651.21 251.18,639.37 243.58,627.08 235.84,614.32 227.98,601.04 219.96,587.19 211.8,572.74 203.49,557.62 195.01,541.76 186.36,525.1 177.53,507.54 168.52,488.99 159.31,469.33 149.89,448.41 140.26,426.06 130.41,402.07 120.33,376.19 110.02,348.08 99.47,317.33 88.7,283.4 77.73,245.53 66.6,202.71 55.43,153.43 44.39,95.4" fill="none" stroke="#ff0000" stroke-opacity="0.5" stroke-width="1.39" stroke-dasharray="5.14 2.22"/>
<polyline points="484.96,865.4 479.23,859.3 473.44,853.08 467.59,846.74 461.68,840.27 455.71,833.68 449.67,826.95 443.57,820.08 437.39,813.06 431.15,805.89 424.83,798.55 418.43,791.05 411.96,783.38 405.41,775.51 398.78,767.46 392.06,759.2 385.26,750.73 378.36,742.03 371.37,733.1 364.28,723.92 357.09,714.47 349.79,704.74 342.39,694.71 334.87,684.36 327.23,673.68 319.47,662.64 311.58,651.21 303.56,639.37 295.4,627.08 287.09,614.32 278.63,601.04 270.01,587.19 261.22,572.74 252.26,557.62 243.11,541.76 233.77,525.1 224.22,507.54 214.46,488.99 204.46,469.33 194.23,448.41 183.75,426.06 172.99,402.07 161.96,376.19 150.64,348.08 139.02,317.33 127.1,283.4 114.88,245.53 102.39,202.71 89.7,153.43 76.98,95.4" fill="none" stroke="#ff0000" stroke-opacity="0.5" stroke-width="1.39" stroke-dasharray="5.14 2.22"/>
<polyline points="548.76,865.4 542.69,859.3 536.56,853.08 530.36,846.74 524.1,840.27 517.77,833.68 511.36,826.95 504.89,820.08 498.34,813.06 491.72,805.89 485.01,798.55 478.23,791.05 471.36,783.38 464.4,775.51 457.35,767.46 450.22,759.2 442.98,750.73 435.65,742.03 428.21,733.1 420.67,723.92 413.01,714.47 405.24,704.74 397.36,694.71 389.34,684.36 381.2,673.68 372.92,662.64 364.51,651.21 355.94,639.37 347.22,627.08 338.34,614.32 329.29,601.04 320.06,587.19 310.65,572.74 301.03,557.62 291.22,541.76 281.18,525.1 270.91,507.54 260.39,488.99 249.62,469.33 238.57,448.41 227.23,426.06 215.58,402.07 203.6,376.19 191.27,348.08 178.57,317.33 165.49,283.4 152.02,245.53 138.17,202.71 123.98,153.43 109.57,95.4" fill="none" stroke="#ff0000" stroke-opacity="0.5" stroke-width="1.39" stroke-dasharray="5.14 2.22"/>
<polyline points="612.56,865.4 606.15,859.3 599.68,853.08 593.13,846.74 586.51,840.27 579.82,833.68 573.06,826.95 566.21,820.08 559.29,813.06 552.29,805.89 545.2,798.55 538.02,791.05 530.75,783.38 523.39,775.51 515.93,767.46 508.37,759.2 500.71,750.73 492.94,742.03 485.05,733.1 477.06,723.92 468.94,714.47 460.7,704.74 452.33,694.71 443.82,684.36 435.17,673.68 426.38,662.64 417.43,651.21 408.32,639.37 399.04,627.08 389.59,614.32 379.94,601.04 370.11,587.19 360.07,572.74 349.81,557.62 339.32,541.76 328.59,525.1 317.6,507.54 306.33,488.99 294.78,469.33 282.91,448.41 270.71,426.06 258.16,402.07 245.23,376.19 231.89,348.08 218.12,317.33 203.89,283.4 189.17,245.53 173.96,202.71 158.26,153.43 142.15,95.4" fill="none" stroke="#ff0000" stroke-opacity="0.5" stroke-width="1.39" stroke-dasharray="5.14 2.22"/>
<polyline points="676.36,865.4 669.61,859.3 662.79,853.08 655.9,846.74 648.93,840.27 641.88,833.68 634.75,826.95 627.54,820.08 620.24,813.06 612.86,805.89 605.38,798.55 597.81,791.05 590.14,783.38 582.37,775.51 574.5,767.46 566.52,759.2 558.43,750.73 550.22,742.03 541.9,733.1 533.45,723.92 524.87,714.47 516.15,704.74 507.3,694.71 498.3,684.36 489.14,673.68 479.83,662.64 470.35,651.21 460.7,639.37 450.86,627.08 440.83,614.32 430.6,601.04 420.16,587.19 409.49,572.74 398.58,557.62 387.42,541.76 376,525.1 364.29,507.54 352.27,488.99 339.94,469.33 327.25,448.41 314.2,426.06 300.75,402.07 286.86,376.19 272.52,348.08 257.67,317.33 242.28,283.4 226.32,245.53 209.74,202.71 192.54,153.43 174.74,95.4" fill="none" stroke="#ff0000" stroke-opacity="0.5" stroke-width="1.39" stroke-dasharray="5.14 2.22"/>
<polyline points="740.16,865.4 733.07,859.3 725.91,853.08 718.67,846.74 711.34,840.27 703.94,833.68 696.44,826.95 688.86,820.08 681.19,813.06 673.43,805.89 665.56,798.55 657.6,791.05 649.53,783.38 641.36,775.51 633.07,767.46 624.67,759.2 616.15,750.73 607.51,742.03 598.74,733.1 589.84,723.92 580.79,714.47 571.61,704.74 562.27,694.71 552.77,684.36 543.11,673.68 533.28,662.64 523.28,651.21 513.08,639.37 502.68,627.08 492.08,614.32 481.26,601.04 470.21,587.19 458.91,572.74 447.35,557.62 435.53,541.76 423.4,525.1 410.97,507.54 398.21,488.99 385.09,469.33 371.59,448.41 357.68,426.06 343.33,402.07 328.5,376.19 313.14,348.08 297.22,317.33 280.68,283.4 263.47,245.53 245.53,202.71 226.82,153.43 207.33,95.4" fill="none" stroke="#ff0000" stroke-opacity="0.5" stroke-width="1.39" stroke-dasharray="5.14 2.22"/>
<polyline points="803.95,865.4 796.53,859.3 789.02,853.08 781.43,846.74 773.76,840.27 765.99,833.68 758.14,826.95 750.19,820.08 742.14,813.06 734,805.89 725.75,798.55 717.39,791.05 708.92,783.38 700.34,775.51 691.65,767.46 682.83,759.2 673.88,750.73 664.8,742.03 655.58,733.1 646.22,723.92 636.72,714.47 627.06,704.74 617.24,694.71 607.25,684.36 597.09,673.68 586.74,662.64 576.2,651.21 565.46,639.37 554.5,627.08 543.33,614.32 531.91,601.04 520.25,587.19 508.33,572.74 496.13,557.62 483.63,541.76 470.81,525.1 457.66,507.54 444.15,488.99 430.25,469.33 415.93,448.41 401.17,426.06 385.91,402.07 370.13,376.19 353.76,348.08 336.77,317.33 319.07,283.4 300.61,245.53 281.31,202.71 261.1,153.43 239.91,95.4" fill="none" stroke="#ff0000" stroke-opacity="0.5" stroke-width="1.39" stroke-dasharray="5.14 2.22"/>
<polyline points="229.21,865.4 225.06,859.3 220.86,853.08 216.6,846.74 212.29,840.27 207.91,833.68 203.47,826.95 198.98,820.08 194.42,813.06 189.8,805.89 185.13,798.55 180.39,791.05 175.59,783.38 170.73,775.51 165.8,767.46 160.81,759.2 155.76,750.73 150.64,742.03 145.45,733.1 140.19,723.92 134.87,714.47 129.48,704.74 124.01,694.71 118.47,684.36 112.85,673.68 107.16,662.64 101.38,651.21 95.53,639.37 89.59,627.08 83.57,614.32 77.46,601.04 71.25,587.19 64.96,572.74 58.57,557.62 52.08,541.76 45.5,525.1 38.81,507.54 32.02,488.99 25.14,469.33 18.15,448.41 11.06,426.06 3.89,402.07 -3.37,376.19 -10.68,348.08 -18.03,317.33 -25.38,283.4 -32.64,245.53 -39.72,202.71 -46.42,153.43 -52.43,95.4" fill="none" stroke="#0000ff" stroke-opacity="0.5" stroke-width="1.39" stroke-dasharray="5.14 2.22"/>
<polyline points="292.2,865.4 288.05,859.3 283.81,853.08 279.49,846.74 275.09,840.27 270.6,833.68 266.04,826.95 261.39,820.08 256.66,813.06 251.84,805.89 246.94,798.55 241.96,791.05 236.89,783.38 231.74,775.51 226.51,767.46 221.19,759.2 215.78,750.73 210.29,742.03 204.72,733.1 199.06,723.92 193.31,714.47 187.47,704.74 181.54,694.71 175.51,684.36 169.4,673.68 163.19,662.64 156.88,651.21 150.47,639.37 143.96,627.08 137.35,614.32 130.63,601.04 123.79,587.19 116.85,572.74 109.78,557.62 102.59,541.76 95.28,525.1 87.84,507.54 80.26,488.99 72.56,469.33 64.71,448.41 56.73,426.06 48.61,402.07 40.35,376.19 31.98,348.08 23.5,317.33 14.94,283.4 6.37,245.53 -2.14,202.71 -10.43,153.43 -18.21,95.4" fill="none" stroke="#0000ff" stroke-opacity="0.5" stroke-width="1.39" stroke-dasharray="5.14 2.22"/>
<polyline points="354.48,865.4 350.59,859.3 346.6,853.08 342.49,846.74 338.28,840.27 333.95,833.68 329.51,826.95 324.95,820.08 320.28,813.06 315.49,805.89 310.59,798.55 305.56,791.05 300.42,783.38 295.15,775.51 289.77,767.46 284.27,759.2 278.65,750.73 272.91,742.03 267.05,733.1 261.07,723.92 254.97,714.47 248.75,704.74 242.42,694.71 235.95,684.36 229.37,673.68 222.66,662.64 215.83,651.21 208.88,639.37 201.79,627.08 194.57,614.32 187.22,601.04 179.73,587.19 172.1,572.74 164.33,557.62 156.4,541.76 148.32,525.1 140.08,507.54 131.67,488.99 123.09,469.33 114.33,448.41 105.39,426.06 96.26,402.07 86.94,376.19 77.44,348.08 67.76,317.33 57.91,283.4 47.94,245.53 37.91,202.71 27.94,153.43 18.26,95.4" fill="none" stroke="#0000ff" stroke-opacity="0.5" stroke-width="1.39" stroke-dasharray="5.14 2.22"/>
<polyline points="415.87,865.4 412.58,859.3 409.18,853.08 405.65,846.74 401.99,840.27 398.2,833.68 394.27,826.95 390.2,820.08 385.99,813.06 381.62,805.89 377.1,798.55 372.42,791.05 367.57,783.38 362.57,775.51 357.39,767.46 352.05,759.2 346.53,750.73 340.84,742.03 334.97,733.1 328.93,723.92 322.71,714.47 316.32,704.74 309.75,694.71 303,684.36 296.07,673.68 288.97,662.64 281.7,651.21 274.25,639.37 266.62,627.08 258.81,614.32 250.82,601.04 242.66,587.19 234.31,572.74 225.77,557.62 217.04,541.76 208.12,525.1 198.99,507.54 189.65,488.99 180.1,469.33 170.32,448.41 160.3,426.06 150.04,402.07 139.52,376.19 128.75,348.08 117.71,317.33 106.4,283.4 94.86,245.53 83.1,202.71 71.23,153.43 59.42,95.4" fill="none" stroke="#0000ff" stroke-opacity="0.5" stroke-width="1.39" stroke-dasharray="5.14 2.22"/>
<polyline points="476.54,865.4 474.11,859.3 471.58,853.08 468.94,846.74 466.18,840.27 463.3,833.68 460.29,826.95 457.14,820.08 453.85,813.06 450.4,805.89 446.79,798.55 443.01,791.05 439.05,783.38 434.9,775.51 430.55,767.46 426,759.2 421.22,750.73 416.22,742.03 410.99,733.1 405.51,723.92 399.77,714.47 393.78,704.74 387.53,694.71 381,684.36 374.21,673.68 367.13,662.64 359.78,651.21 352.14,639.37 344.23,627.08 336.04,614.32 327.57,601.04 318.83,587.19 309.81,572.74 300.51,557.62 290.94,541.76 281.1,525.1 270.97,507.54 260.56,488.99 249.86,469.33 238.86,448.41 227.55,426.06 215.91,402.07 203.94,376.19 191.61,348.08 178.9,317.33 165.82,283.4 152.34,245.53 138.48,202.71 124.28,153.43 109.85,95.4" fill="none" stroke="#0000ff" stroke-opacity="0.5" stroke-width="1.39" stroke-dasharray="5.14 2.22"/>
<polyline points="506.75,865.4 504.79,859.3 502.75,853.08 500.61,846.74 498.37,840.27 496.03,833.68 493.57,826.95 491,820.08 488.29,813.06 485.45,805.89 482.46,798.55 479.32,791.05 476.01,783.38 472.52,775.51 468.84,767.46 464.96,759.2 460.87,750.73 456.54,742.03 451.97,733.1 447.15,723.92 442.05,714.47 436.66,704.74 430.98,694.71 424.98,684.36 418.66,673.68 412,662.64 405,651.21 397.64,639.37 389.92,627.08 381.84,614.32 373.39,601.04 364.57,587.19 355.39,572.74 345.85,557.62 335.94,541.76 325.68,525.1 315.06,507.54 304.08,488.99 292.75,469.33 281.05,448.41 268.98,426.06 256.52,402.07 243.66,376.19 230.38,348.08 216.66,317.33 202.47,283.4 187.81,245.53 172.65,202.71 157,153.43 140.96,95.4" fill="none" stroke="#0000ff" stroke-opacity="0.5" stroke-width="1.39" stroke-dasharray="5.14 2.22"/>
<polyline points="536.98,865.4 535.49,859.3 533.92,853.08 532.28,846.74 530.56,840.27 528.76,833.68 526.87,826.95 524.89,820.08 522.8,813.06 520.6,805.89 518.28,798.55 515.83,791.05 513.24,783.38 510.5,775.51 507.6,767.46 504.52,759.2 501.26,750.73 497.79,742.03 494.09,733.1 490.16,723.92 485.97,714.47 481.5,704.74 476.74,694.71 471.64,684.36 466.21,673.68 460.4,662.64 454.2,651.21 447.58,639.37 440.53,627.08 433.03,614.32 425.05,601.04 416.59,587.19 407.63,572.74 398.18,557.62 388.22,541.76 377.77,525.1 366.82,507.54 355.38,488.99 343.46,469.33 331.06,448.41 318.17,426.06 304.8,402.07 290.94,376.19 276.56,348.08 261.64,317.33 246.16,283.4 230.08,245.53 213.37,202.71 196.01,153.43 178.04,95.4" fill="none" stroke="#0000ff" stroke-opacity="0.5" stroke-width="1.39" stroke-dasharray="5.14 2.22"/>
<polyline points="567.29,865.4 566.22,859.3 565.11,853.08 563.94,846.74 562.71,840.27 561.43,833.68 560.07,826.95 558.65,820.08 557.16,813.06 555.58,805.89 553.91,798.55 552.15,791.05 550.28,783.38 548.3,775.51 546.2,767.46 543.96,759.2 541.58,750.73 539.04,742.03 536.32,733.1 533.41,723.92 530.29,714.47 526.93,704.74 523.32,694.71 519.43,684.36 515.23,673.68 510.69,662.64 505.78,651.21 500.46,639.37 494.68,627.08 488.42,614.32 481.63,601.04 474.27,587.19 466.3,572.74 457.68,557.62 448.38,541.76 438.38,525.1 427.67,507.54 416.24,488.99 404.09,469.33 391.23,448.41 377.66,426.06 363.41,402.07 348.48,376.19 332.86,348.08 316.55,317.33 299.52,283.4 281.73,245.53 263.14,202.71 243.7,153.43 223.37,95.4" fill="none" stroke="#0000ff" stroke-opacity="0.5" stroke-width="1.39" stroke-dasharray="5.14 2.22"/>
<polyline points="597.72,865.4 597.04,859.3 596.32,853.08 595.57,846.74 594.79,840.27 593.96,833.68 593.1,826.95 592.18,820.08 591.22,813.06 590.21,805.89 589.13,798.55 587.99,791.05 586.79,783.38 585.51,775.51 584.14,767.46 582.69,759.2 581.14,750.73 579.48,742.03 577.69,733.1 575.78,723.92 573.72,714.47 571.49,704.74 569.08,694.71 566.47,684.36 563.64,673.68 560.54,662.64 557.16,651.21 553.46,639.37 549.39,627.08 544.91,614.32 539.97,601.04 534.5,587.19 528.44,572.74 521.72,557.62 514.25,541.76 505.95,525.1 496.75,507.54 486.57,488.99 475.35,469.33 463.04,448.41 449.62,426.06 435.08,402.07 419.45,376.19 402.74,348.08 384.99,317.33 366.21,283.4 346.39,245.53 325.49,202.71 303.45,153.43 280.18,95.4" fill="none" stroke="#0000ff" stroke-opacity="0.5" stroke-width="1.39" stroke-dasharray="5.14 2.22"/>
<polyline points="628.29,865.4 627.94,859.3 627.57,853.08 627.19,846.74 626.78,840.27 626.35,833.68 625.9,826.95 625.42,820.08 624.92,813.06 624.38,805.89 623.81,798.55 623.21,791.05 622.57,783.38 621.89,775.51 621.15,767.46 620.37,759.2 619.53,750.73 618.62,742.03 617.65,733.1 616.6,723.92 615.46,714.47 614.23,704.74 612.88,694.71 611.42,684.36 609.81,673.68 608.05,662.64 606.12,651.21 603.98,639.37 601.61,627.08 598.97,614.32 596.02,601.04 592.72,587.19 588.99,572.74 584.78,557.62 580,541.76 574.54,525.1 568.28,507.54 561.1,488.99 552.81,469.33 543.26,448.41 532.25,426.06 519.61,402.07 505.2,376.19 488.91,348.08 470.73,317.33 450.71,283.4 428.9,245.53 405.38,202.71 380.16,153.43 353.17,95.4" fill="none" stroke="#0000ff" stroke-opacity="0.5" stroke-width="1.39" stroke-dasharray="5.14 2.22"/>
<polyline points="659.01,865.4 658.94,859.3 658.86,853.08 658.77,846.74 658.68,840.27 658.58,833.68 658.47,826.95 658.35,820.08 658.22,813.06 658.08,805.89 657.93,798.55 657.76,791.05 657.57,783.38 657.37,775.51 657.15,767.46 656.91,759.2 656.64,750.73 656.34,742.03 656.02,733.1 655.65,723.92 655.25,714.47 654.81,704.74 654.31,694.71 653.76,684.36 653.14,673.68 652.45,662.64 651.67,651.21 650.79,639.37 649.8,627.08 648.68,614.32 647.39,601.04 645.93,587.19 644.24,572.74 642.3,557.62 640.04,541.76 637.41,525.1 634.32,507.54 630.67,488.99 626.31,469.33 621.09,448.41 614.76,426.06 607.05,402.07 597.6,376.19 585.96,348.08 571.63,317.33 554.15,283.4 533.16,245.53 508.57,202.71 480.51,153.43 449.23,95.4" fill="none" stroke="#0000ff" stroke-opacity="0.5" stroke-width="1.39" stroke-dasharray="5.14 2.22"/>
<polyline points="689.87,865.4 690.02,859.3 690.18,853.08 690.33,846.74 690.49,840.27 690.65,833.68 690.82,826.95 690.98,820.08 691.15,813.06 691.32,805.89 691.49,798.55 691.67,791.05 691.84,783.38 692.02,775.51 692.19,767.46 692.36,759.2 692.54,750.73 692.71,742.03 692.87,733.1 693.04,723.92 693.19,714.47 693.34,704.74 693.48,694.71 693.61,684.36 693.72,673.68 693.82,662.64 693.89,651.21 693.94,639.37 693.95,627.08 693.93,614.32 693.85,601.04 693.72,587.19 693.51,572.74 693.21,557.62 692.8,541.76 692.25,525.1 691.52,507.54 690.57,488.99 689.34,469.33 687.74,448.41 685.66,426.06 682.95,402.07 679.38,376.19 674.63,348.08 668.23,317.33 659.49,283.4 647.36,245.53 630.44,202.71 607.04,153.43 575.85,95.4" fill="none" stroke="#0000ff" stroke-opacity="0.5" stroke-width="1.39" stroke-dasharray="5.14 2.22"/>
<polyline points="720.86,865.4 721.19,859.3 721.53,853.08 721.87,846.74 722.23,840.27 722.59,833.68 722.97,826.95 723.35,820.08 723.75,813.06 724.16,805.89 724.58,798.55 725.01,791.05 725.46,783.38 725.92,775.51 726.39,767.46 726.88,759.2 727.38,750.73 727.9,742.03 728.43,733.1 728.98,723.92 729.54,714.47 730.12,704.74 730.72,694.71 731.34,684.36 731.98,673.68 732.63,662.64 733.3,651.21 734,639.37 734.71,627.08 735.44,614.32 736.19,601.04 736.95,587.19 737.73,572.74 738.52,557.62 739.33,541.76 740.13,525.1 740.93,507.54 741.71,488.99 742.47,469.33 743.17,448.41 743.79,426.06 744.28,402.07 744.58,376.19 744.57,348.08 744.11,317.33 742.93,283.4 740.59,245.53 736.33,202.71 728.72,153.43 714.96,95.4" fill="none" stroke="#0000ff" stroke-opacity="0.5" stroke-width="1.39" stroke-dasharray="5.14 2.22"/>
<polyline points="751.96,865.4 752.43,859.3 752.9,853.08 753.39,846.74 753.89,840.27 754.41,833.68 754.95,826.95 755.5,820.08 756.07,813.06 756.65,805.89 757.26,798.55 757.88,791.05 758.53,783.38 759.2,775.51 759.89,767.46 760.6,759.2 761.34,750.73 762.11,742.03 762.91,733.1 763.73,723.92 764.58,714.47 765.47,704.74 766.4,694.71 767.36,684.36 768.36,673.68 769.4,662.64 770.48,651.21 771.62,639.37 772.8,627.08 774.04,614.32 775.34,601.04 776.7,587.19 778.12,572.74 779.62,557.62 781.2,541.76 782.86,525.1 784.61,507.54 786.46,488.99 788.41,469.33 790.48,448.41 792.67,426.06 794.98,402.07 797.44,376.19 800.03,348.08 802.76,317.33 805.6,283.4 808.5,245.53 811.35,202.71 813.86,153.43 815.41,95.4" fill="none" stroke="#0000ff" stroke-opacity="0.5" stroke-width="1.39" stroke-dasharray="5.14 2.22"/>
<polyline points="783.16,865.4 783.72,859.3 784.3,853.08 784.89,846.74 785.5,840.27 786.13,833.68 786.78,826.95 787.45,820.08 788.14,813.06 788.86,805.89 789.6,798.55 790.36,791.05 791.15,783.38 791.96,775.51 792.81,767.46 793.69,759.2 794.59,750.73 795.54,742.03 796.51,733.1 797.53,723.92 798.59,714.47 799.69,704.74 800.83,694.71 802.03,684.36 803.27,673.68 804.58,662.64 805.94,651.21 807.37,639.37 808.87,627.08 810.44,614.32 812.1,601.04 813.85,587.19 815.69,572.74 817.64,557.62 819.7,541.76 821.9,525.1 824.24,507.54 826.73,488.99 829.41,469.33 832.29,448.41 835.39,426.06 838.75,402.07 842.41,376.19 846.42,348.08 850.83,317.33 855.72,283.4 861.19,245.53 867.35,202.71 874.37,153.43 882.44,95.4" fill="none" stroke="#0000ff" stroke-opacity="0.5" stroke-width="1.39" stroke-dasharray="5.14 2.22"/>
<polyline points="610.8,95.4 600.1,114 583.3,136.9 571.7,183.6 560.9,206.4 549.4,252.9 544.1,267.6 532,298.2 524.1,322.1 514.6,347.3 501.9,370.5 483.8,394.6 448.5,422.8 426.3,441 404,464.4 393,487 391.2,510.5 394.9,535.4 404,555.8 416.3,582.7 425.3,599.3 440.5,628 450.3,651.4 453.3,680 454,683.6 455.1,698.7 453.2,719.9 452.9,730.5 454,742.5 460,757.7 466.8,775.8 474,795.2 484.1,812.8 487.4,817.6 492.7,825.1 500.2,835 507.8,842.5 516.9,849.3" fill="none" stroke="#ff0000" stroke-width="2.5" stroke-linejoin="round"/>
<polyline points="399.7,95.4 251.4,349.3 240.2,370.2 239.7,394 260.3,404.5 290.5,417.6 324.8,441.8 344.9,464.9 342,488.1 337.4,511.2 347.4,534.4 365.6,558.6 376.6,578.7 390.8,604.9 398.8,625.1 412.5,652.2 429.1,674.9 436.6,703.2 438.1,721.4 446.4,742.5 451.7,763.7 460.2,792.7 465.8,805.3 475.3,814.7 488.5,824.2 486.6,840.5 487.2,850" fill="none" stroke="#008000" stroke-width="2.2" stroke-linejoin="round"/>
<polyline points="518.3,850.1 515.63,847.32 512.94,844.52 510.24,841.69 507.53,838.84 504.8,835.96 502.06,833.06 499.31,830.14 496.55,827.18 493.77,824.2 493.32,820.45 491.91,816.71 490.48,812.96 489.02,809.21 487.55,805.47 486.05,801.72 484.53,797.97 482.99,794.23 481.43,790.48 479.84,786.73 478.24,782.99 476.61,779.24 474.95,775.49 473.28,771.75 471.58,768 469.86,764.25 468.11,760.51 466.34,756.76 464.55,753.01 462.74,749.27 460.91,745.52 459.05,741.77 457.17,738.03 455.26,734.28 453.34,730.53 451.39,726.79 449.42,723.04 447.43,719.29 445.42,715.55 443.39,711.8 441.34,708.05 439.27,704.31 437.17,700.56 435.06,696.81 432.93,693.06 430.79,689.32 428.62,685.57 426.44,681.82 424.24,678.08 422.03,674.33 419.8,670.58 417.56,666.84 415.3,663.09 413.03,659.34 410.74,655.6 408.45,651.85 406.14,648.1 403.83,644.36 401.5,640.61 399.17,636.86 396.82,633.12 394.47,629.37 392.12,625.62 389.75,621.88 387.39,618.13 385.01,614.38 382.64,610.64 380.26,606.89 377.88,603.14 375.49,599.4 373.11,595.65 370.72,591.9 368.34,588.16 365.96,584.41 363.58,580.66 361.2,576.92 358.82,573.17 356.45,569.42 354.08,565.68 351.71,561.93 349.35,558.18 347,554.44 344.65,550.69 342.3,546.94 339.97,543.2 337.64,539.45 335.32,535.7 333,531.96 330.7,528.21 328.4,524.46 326.11,520.72 323.83,516.97 321.56,513.22 319.3,509.48 317.05,505.73 314.81,501.98 312.59,498.24 310.37,494.49 308.16,490.74 305.96,487 303.78,483.25 301.6,479.5 299.44,475.76 297.29,472.01 295.15,468.26 293.02,464.52 290.9,460.77 288.8,457.02 286.71,453.27 284.63,449.53 282.56,445.78 280.51,442.03 278.46,438.29 276.43,434.54 274.42,430.79 272.41,427.05 270.42,423.3 268.44,419.55 266.47,415.81 264.52,412.06 262.58,408.31 260.65,404.57 258.73,400.82 256.83,397.07 254.94,393.33 253.06,389.58 251.19,385.83 249.34,382.09 247.5,378.34 245.67,374.59 243.86,370.85 242.06,367.1 240.27,363.35 238.49,359.61 236.73,355.86 234.98,352.11 233.24,348.37 231.51,344.62 229.8,340.87 228.1,337.13 226.41,333.38 224.73,329.63 223.07,325.89 221.41,322.14 219.77,318.39 218.15,314.65 216.53,310.9 214.93,307.15 213.34,303.41 211.76,299.66 210.2,295.91 208.64,292.17 207.1,288.42 205.57,284.67 204.05,280.93 202.55,277.18 201.05,273.43 199.57,269.69 198.1,265.94 196.64,262.19 195.2,258.45 193.76,254.7 192.34,250.95 190.93,247.21 189.53,243.46 188.14,239.71 186.76,235.97 185.4,232.22 184.05,228.47 182.7,224.73 181.37,220.98 180.05,217.23 178.75,213.48 177.45,209.74 176.17,205.99 174.89,202.24 173.63,198.5 172.38,194.75 171.14,191 169.91,187.26 168.69,183.51 167.48,179.76 166.29,176.02 165.1,172.27 163.93,168.52 162.76,164.78 161.61,161.03 160.47,157.28 159.34,153.54 158.22,149.79 157.11,146.04 156.01,142.3 154.92,138.55 153.84,134.8 152.78,131.06 151.72,127.31 150.68,123.56 149.64,119.82 148.61,116.07 147.6,112.32 146.6,108.58 145.6,104.83 144.62,101.08 143.65,97.34 142.68,93.59 141.73,89.84 140.79,86.1 139.85,82.35 138.93,78.6" fill="none" stroke="#000000" stroke-width="3.1" stroke-linejoin="round" stroke-linecap="square"/>
<line x1="487.2" y1="850" x2="493.5" y2="824.2" stroke="#000" stroke-width="2.7"/>
</g>
<path d="M712,137.2 L678.7,128 M678.7,128 L678.22,113.53 M682.86,129.15 L682.62,121.92" fill="none" stroke="#000" stroke-width="1.8" stroke-linejoin="miter"/>
<path d="M712,184.4 L677.8,177.1 M677.8,177.1 L676.44,162.51 M682.07,178.01 L680.72,163.42" fill="none" stroke="#000" stroke-width="1.8" stroke-linejoin="miter"/>
<path d="M712,230.9 L678.75,222.2 M678.75,222.2 L678.07,207.81 M682.91,223.29 L682.23,208.9" fill="none" stroke="#000" stroke-width="1.8" stroke-linejoin="miter"/>
<path d="M712,277.2 L680,266.7 M680,266.7 L680.2,252.59 M684,268.01 L684.2,253.9" fill="none" stroke="#000" stroke-width="1.8" stroke-linejoin="miter"/>
<path d="M712,323.5 L678.5,316.8 M678.5,316.8 L676.99,302.56 M682.69,317.64 L681.18,303.4" fill="none" stroke="#000" stroke-width="1.8" stroke-linejoin="miter"/>
<path d="M712,370.7 L680.7,356.9 M680.7,356.9 L682.31,342.65 M684.61,358.62 L686.22,344.38" fill="none" stroke="#000" stroke-width="1.8" stroke-linejoin="miter"/>
<path d="M712,417.4 L682.6,400 M682.6,400 L685.89,386.06 M686.27,402.18 L689.56,388.24" fill="none" stroke="#000" stroke-width="1.8" stroke-linejoin="miter"/>
<path d="M712,464.5 L681.7,448.1 M681.7,448.1 L684.47,433.93 M685.49,450.15 L688.26,435.98" fill="none" stroke="#000" stroke-width="1.8" stroke-linejoin="miter"/>
<path d="M712,511.3 L688.2,486.7 M688.2,486.7 L695.07,474.11 M691.18,489.77 L698.04,477.18 M694.15,492.85 L697.58,486.55" fill="none" stroke="#000" stroke-width="1.8" stroke-linejoin="miter"/>
<path d="M712,558.4 L690.4,531.5 M690.4,531.5 L698.46,519.5 M693.1,534.86 L701.16,522.86 M695.8,538.23 L699.83,532.22" fill="none" stroke="#000" stroke-width="1.8" stroke-linejoin="miter"/>
<path d="M712,604 L688.9,580.1 M688.9,580.1 L695.57,567.87 M691.79,583.09 L698.46,570.86 M694.67,586.08 L698.01,579.96" fill="none" stroke="#000" stroke-width="1.8" stroke-linejoin="miter"/>
<path d="M712,651.6 L688.2,627.7 M688.2,627.7 L694.78,615.19 M691.18,630.69 L697.76,618.18" fill="none" stroke="#000" stroke-width="1.8" stroke-linejoin="miter"/>
<path d="M712,698.7 L682.9,681.5 M682.9,681.5 L686.14,667.71 M686.54,683.65 L689.78,669.86" fill="none" stroke="#000" stroke-width="1.8" stroke-linejoin="miter"/>
<path d="M712,742.4 L682.6,724.8 M682.6,724.8 L685.97,710.84 M686.27,727 L687.96,720.02" fill="none" stroke="#000" stroke-width="1.8" stroke-linejoin="miter"/>
<path d="M712,777.5 L682.6,760.4 M682.6,760.4 L685.77,746.5 M686.27,762.54 L687.86,755.59" fill="none" stroke="#000" stroke-width="1.8" stroke-linejoin="miter"/>
<path d="M712,805.2 L684.9,784.3 M684.9,784.3 L689.87,770.85 M688.29,786.91 L690.77,780.19" fill="none" stroke="#000" stroke-width="1.8" stroke-linejoin="miter"/>
<path d="M712,824.2 L683.2,808.9 M683.2,808.9 L685.72,795.47 M686.8,810.81 L688.06,804.1" fill="none" stroke="#000" stroke-width="1.8" stroke-linejoin="miter"/>
<path d="M712,836.5 L685.4,823.8 M685.4,823.8 L687.15,811.57 M688.73,825.39 L689.6,819.27" fill="none" stroke="#000" stroke-width="1.8" stroke-linejoin="miter"/>
<path d="M712,844.7 L682.8,831.3 M682.8,831.3 L684.51,817.94 M686.45,832.97 L687.3,826.3" fill="none" stroke="#000" stroke-width="1.8" stroke-linejoin="miter"/>
<path d="M712,850 L681,834.7 M681,834.7 L683.25,820.39 M684.88,836.61 L686,829.46" fill="none" stroke="#000" stroke-width="1.8" stroke-linejoin="miter"/>
<rect x="83.5" y="95.5" width="629" height="770" fill="none" stroke="#000" stroke-width="1.11"/>
<line x1="78.49" y1="95.5" x2="83.35" y2="95.5" stroke="#000" stroke-width="1.11"/>
<line x1="78.49" y1="322.5" x2="83.35" y2="322.5" stroke="#000" stroke-width="1.11"/>
<line x1="78.49" y1="455.5" x2="83.35" y2="455.5" stroke="#000" stroke-width="1.11"/>
<line x1="78.49" y1="549.5" x2="83.35" y2="549.5" stroke="#000" stroke-width="1.11"/>
<line x1="78.49" y1="622.5" x2="83.35" y2="622.5" stroke="#000" stroke-width="1.11"/>
<line x1="78.49" y1="682.5" x2="83.35" y2="682.5" stroke="#000" stroke-width="1.11"/>
<line x1="78.49" y1="732.5" x2="83.35" y2="732.5" stroke="#000" stroke-width="1.11"/>
<line x1="78.49" y1="776.5" x2="83.35" y2="776.5" stroke="#000" stroke-width="1.11"/>
<line x1="78.49" y1="815.5" x2="83.35" y2="815.5" stroke="#000" stroke-width="1.11"/>
<line x1="78.49" y1="849.5" x2="83.35" y2="849.5" stroke="#000" stroke-width="1.11"/>
<line x1="83.5" y1="865.4" x2="83.5" y2="870.26" stroke="#000" stroke-width="1.11"/>
<line x1="146.5" y1="865.4" x2="146.5" y2="870.26" stroke="#000" stroke-width="1.11"/>
<line x1="209.5" y1="865.4" x2="209.5" y2="870.26" stroke="#000" stroke-width="1.11"/>
<line x1="272.5" y1="865.4" x2="272.5" y2="870.26" stroke="#000" stroke-width="1.11"/>
<line x1="335.5" y1="865.4" x2="335.5" y2="870.26" stroke="#000" stroke-width="1.11"/>
<line x1="397.5" y1="865.4" x2="397.5" y2="870.26" stroke="#000" stroke-width="1.11"/>
<line x1="460.5" y1="865.4" x2="460.5" y2="870.26" stroke="#000" stroke-width="1.11"/>
<line x1="523.5" y1="865.4" x2="523.5" y2="870.26" stroke="#000" stroke-width="1.11"/>
<line x1="586.5" y1="865.4" x2="586.5" y2="870.26" stroke="#000" stroke-width="1.11"/>
<line x1="649.5" y1="865.4" x2="649.5" y2="870.26" stroke="#000" stroke-width="1.11"/>
<line x1="712.5" y1="865.4" x2="712.5" y2="870.26" stroke="#000" stroke-width="1.11"/>
<rect x="91.3" y="704.2" width="154.2" height="154.2" fill="#fff" stroke="#000" stroke-width="1.11"/>
<defs><clipPath id="hc"><rect x="91.3" y="704.2" width="154.2" height="154.2"/></clipPath></defs>
<g clip-path="url(#hc)">
<circle cx="168.4" cy="781.0" r="25.6" fill="none" stroke="#808080" stroke-width="1.5" stroke-dasharray="5.6 2.6"/>
<circle cx="168.4" cy="781.0" r="51.3" fill="none" stroke="#808080" stroke-width="1.5" stroke-dasharray="5.6 2.6"/>
<circle cx="168.4" cy="781.0" r="76.9" fill="none" stroke="#808080" stroke-width="1.5" stroke-dasharray="5.6 2.6"/>
<circle cx="168.4" cy="781.0" r="102.5" fill="none" stroke="#808080" stroke-width="1.5" stroke-dasharray="5.6 2.6"/>
<line x1="91.3" y1="781.0" x2="245.5" y2="781.0" stroke="#808080" stroke-width="2.4" stroke-dasharray="8.2 2.9"/>
<line x1="168.4" y1="704.2" x2="168.4" y2="858.4" stroke="#808080" stroke-width="2.4" stroke-dasharray="8.2 2.9"/>
<line x1="195.8" y1="795.4" x2="200.5" y2="797.2" stroke="#440154" stroke-width="4.4" stroke-linecap="square"/>
<line x1="200.5" y1="797.2" x2="203.8" y2="800.1" stroke="#482173" stroke-width="4.4" stroke-linecap="square"/>
<line x1="203.8" y1="800.1" x2="203.8" y2="805.7" stroke="#433e85" stroke-width="4.4" stroke-linecap="square"/>
<line x1="203.8" y1="805.7" x2="212.7" y2="810.4" stroke="#38588c" stroke-width="4.4" stroke-linecap="square"/>
<line x1="212.7" y1="810.4" x2="204.3" y2="822.6" stroke="#2d708e" stroke-width="4.4" stroke-linecap="square"/>
<line x1="204.3" y1="822.6" x2="205.7" y2="826.3" stroke="#25858e" stroke-width="4.4" stroke-linecap="square"/>
<line x1="205.7" y1="826.3" x2="210.4" y2="806.2" stroke="#1e9b8a" stroke-width="4.4" stroke-linecap="square"/>
<line x1="210.4" y1="806.2" x2="219.3" y2="807.6" stroke="#2ab07f" stroke-width="4.4" stroke-linecap="square"/>
<line x1="219.3" y1="807.6" x2="214.6" y2="797.7" stroke="#52c569" stroke-width="4.4" stroke-linecap="square"/>
<line x1="214.6" y1="797.7" x2="211.8" y2="794.5" stroke="#86d549" stroke-width="4.4" stroke-linecap="square"/>
<line x1="211.8" y1="794.5" x2="207.5" y2="791.2" stroke="#c2df23" stroke-width="4.4" stroke-linecap="square"/>
<line x1="207.5" y1="791.2" x2="212.2" y2="790.9" stroke="#fde725" stroke-width="4.4" stroke-linecap="square"/>
</g>
<text x="10.15" y="20.87" class="tt" textLength="174.55" lengthAdjust="spacingAndGlyphs">SkewTLogP Benbecula</text>
<text x="10.15" y="36.8" class="tt" textLength="172.57" lengthAdjust="spacingAndGlyphs" xml:space="preserve">Lat: 57.48   Lon: -7.36</text>
<text x="10.15" y="52.6" class="tt" textLength="631.86" lengthAdjust="spacingAndGlyphs">Simulation start time: 2024-06-04_00:00:00, Valid time: 2024-06-04T17:00:00.00</text>
<text x="10.7" y="69.8" class="tt" textLength="528.5" lengthAdjust="spacingAndGlyphs">CAPE=74 j/kg, CIN=0 j/kg, LCL=922 hPa, LFC=930 hPa, EQ=702 hPa</text>
<text x="10.6" y="86.7" class="tt" textLength="81.69" lengthAdjust="spacingAndGlyphs">LFT IDX=8</text>
<text x="101.8" y="86.7" class="tt" textLength="94.21" lengthAdjust="spacingAndGlyphs">C, K IDX=14</text>
<text x="207.1" y="86.7" class="tt" textLength="147.61" lengthAdjust="spacingAndGlyphs">C, TOTAL TOTS=42</text>
<text x="365.1" y="86.7" class="tt" textLength="142.61" lengthAdjust="spacingAndGlyphs">C, SHWTR_IDX=10</text>
<text x="518.7" y="86.7" class="tt" textLength="9.74" lengthAdjust="spacingAndGlyphs">C</text>
<text x="123.4" y="681.4" class="tb" textLength="86.12" lengthAdjust="spacingAndGlyphs">Wind Profile</text>
<text x="111.2" y="696.6" class="tb" textLength="118.11" lengthAdjust="spacingAndGlyphs">10m/s increment</text>
<text x="45.9" y="100.75" class="tl" textLength="28.12" lengthAdjust="spacingAndGlyphs">100</text>
<text x="46.9" y="327.73" class="tl" textLength="26.99" lengthAdjust="spacingAndGlyphs">200</text>
<text x="46.9" y="460.51" class="tl" textLength="26.99" lengthAdjust="spacingAndGlyphs">300</text>
<text x="46.9" y="554.72" class="tl" textLength="26.99" lengthAdjust="spacingAndGlyphs">400</text>
<text x="45.9" y="627.79" class="tl" textLength="28.12" lengthAdjust="spacingAndGlyphs">500</text>
<text x="46.9" y="687.49" class="tl" textLength="26.99" lengthAdjust="spacingAndGlyphs">600</text>
<text x="46.9" y="737.97" class="tl" textLength="26.99" lengthAdjust="spacingAndGlyphs">700</text>
<text x="46.9" y="781.7" class="tl" textLength="26.99" lengthAdjust="spacingAndGlyphs">800</text>
<text x="46.9" y="820.27" class="tl" textLength="26.99" lengthAdjust="spacingAndGlyphs">900</text>
<text x="39.5" y="854.77" class="tl" textLength="33.41" lengthAdjust="spacingAndGlyphs">1000</text>
<text x="68.75" y="886.7" class="tl" textLength="28.78" lengthAdjust="spacingAndGlyphs">−60</text>
<text x="132.49" y="886.7" class="tl" textLength="27.67" lengthAdjust="spacingAndGlyphs">−50</text>
<text x="195.24" y="886.7" class="tl" textLength="27.67" lengthAdjust="spacingAndGlyphs">−40</text>
<text x="257.98" y="886.7" class="tl" textLength="27.75" lengthAdjust="spacingAndGlyphs">−30</text>
<text x="320.73" y="886.7" class="tl" textLength="27.75" lengthAdjust="spacingAndGlyphs">−20</text>
<text x="383.47" y="886.7" class="tl" textLength="28.82" lengthAdjust="spacingAndGlyphs">−10</text>
<text x="456.27" y="886.7" class="tl" textLength="8.79" lengthAdjust="spacingAndGlyphs">0</text>
<text x="515.46" y="886.7" class="tl" textLength="16.72" lengthAdjust="spacingAndGlyphs">10</text>
<text x="578.21" y="886.7" class="tl" textLength="16.72" lengthAdjust="spacingAndGlyphs">20</text>
<text x="640.96" y="886.7" class="tl" textLength="16.88" lengthAdjust="spacingAndGlyphs">30</text>
<text x="704.7" y="886.7" class="tl" textLength="15.68" lengthAdjust="spacingAndGlyphs">40</text>
<text x="336.1" y="908.3" class="tl" textLength="97.71" lengthAdjust="spacingAndGlyphs">Temperature (</text>
<text x="444" y="908.3" class="tl" textLength="16.75" lengthAdjust="spacingAndGlyphs">C)</text>
<text transform="rotate(-90)" x="-532.7" y="29.2" class="tl" textLength="101.15" lengthAdjust="spacingAndGlyphs">Pressure (hPa)</text>
<circle cx="96.9" cy="78.0" r="1.35" fill="#aaa" stroke="#666" stroke-width="0.8"/>
<circle cx="201.9" cy="78.0" r="1.35" fill="#aaa" stroke="#666" stroke-width="0.8"/>
<circle cx="358.9" cy="78.0" r="1.35" fill="#aaa" stroke="#666" stroke-width="0.8"/>
<circle cx="512.0" cy="78.0" r="1.35" fill="#aaa" stroke="#666" stroke-width="0.8"/>
<circle cx="439.3" cy="899.4" r="1.35" fill="#ccc" stroke="#777" stroke-width="0.7"/>
</svg></body></html>
